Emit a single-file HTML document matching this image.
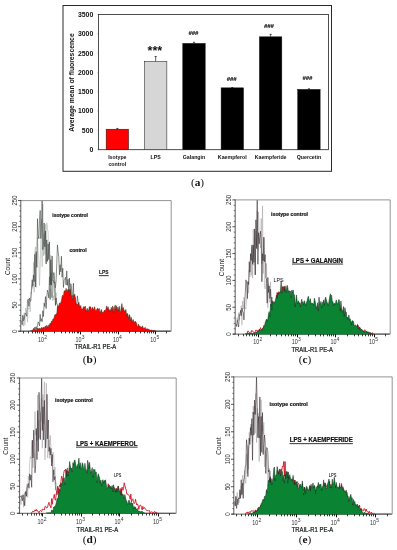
<!DOCTYPE html>
<html><head><meta charset="utf-8"><title>Figure</title>
<style>
html,body{margin:0;padding:0;background:#fff;}
body{width:397px;height:550px;overflow:hidden;font-family:"Liberation Sans",sans-serif;}
svg{display:block;will-change:transform;}
text{font-family:"Liberation Sans",sans-serif;fill:#111;}
.bt{font-size:6.9px;font-weight:bold;}
.yl{font-size:6.8px;font-weight:bold;}
.xl{font-size:5.25px;font-weight:bold;}
.st{font-size:12.6px;font-weight:bold;}
.hs{font-size:5.4px;font-weight:bold;font-style:italic;stroke:#111;stroke-width:0.15;}
.cap{font-family:"Liberation Serif",serif;font-size:11.3px;}
.ht{font-size:6.6px;fill:#333;}
.hl{font-size:6.4px;fill:#111;}
.an{font-size:5.05px;font-weight:bold;}
.ti{font-size:6.4px;font-weight:bold;}
.sm{font-size:4.8px;}
</style></head>
<body>
<svg width="397" height="550" viewBox="0 0 397 550">
<rect width="397" height="550" fill="#fff"/>
<rect x="63.0" y="5.5" width="268.5" height="165.8" fill="#fff" stroke="#2a2a2a" stroke-width="1.0"/>
<rect x="98.5" y="14.4" width="229.9" height="135.3" fill="#fff" stroke="#222" stroke-width="0.8"/>
<line x1="97.2" y1="149.70" x2="98.5" y2="149.70" stroke="#777" stroke-width="0.4"/>
<text x="93.3" y="152.15" text-anchor="end" class="bt">0</text>
<line x1="97.2" y1="130.37" x2="98.5" y2="130.37" stroke="#777" stroke-width="0.4"/>
<text x="93.3" y="132.82" text-anchor="end" class="bt">500</text>
<line x1="97.2" y1="111.04" x2="98.5" y2="111.04" stroke="#777" stroke-width="0.4"/>
<text x="93.3" y="113.49" text-anchor="end" class="bt">1000</text>
<line x1="97.2" y1="91.71" x2="98.5" y2="91.71" stroke="#777" stroke-width="0.4"/>
<text x="93.3" y="94.16" text-anchor="end" class="bt">1500</text>
<line x1="97.2" y1="72.39" x2="98.5" y2="72.39" stroke="#777" stroke-width="0.4"/>
<text x="93.3" y="74.84" text-anchor="end" class="bt">2000</text>
<line x1="97.2" y1="53.06" x2="98.5" y2="53.06" stroke="#777" stroke-width="0.4"/>
<text x="93.3" y="55.51" text-anchor="end" class="bt">2500</text>
<line x1="97.2" y1="33.73" x2="98.5" y2="33.73" stroke="#777" stroke-width="0.4"/>
<text x="93.3" y="36.18" text-anchor="end" class="bt">3000</text>
<line x1="97.2" y1="14.40" x2="98.5" y2="14.40" stroke="#777" stroke-width="0.4"/>
<text x="93.3" y="16.85" text-anchor="end" class="bt">3500</text>
<text transform="translate(74.3,82.5) rotate(-90)" text-anchor="middle" class="yl">Average mean of fluorescence</text>
<rect x="106.16" y="129.21" width="22.4" height="20.49" fill="#f00" stroke="#111" stroke-width="0.5"/>
<path d="M117.36 129.21V128.25M116.26 128.45H118.46" stroke="#111" stroke-width="0.65" fill="none"/>
<text x="117.36" y="159.30" text-anchor="middle" class="xl">Isotype</text>
<text x="117.36" y="165.70" text-anchor="middle" class="xl">control</text>
<rect x="144.47" y="61.37" width="22.4" height="88.33" fill="#d6d6d6" stroke="#111" stroke-width="0.5"/>
<path d="M155.67 61.37V56.34M154.57 56.54H156.77" stroke="#111" stroke-width="0.65" fill="none"/>
<text x="155.67" y="159.30" text-anchor="middle" class="xl">LPS</text>
<text x="154.87" y="55.04" text-anchor="middle" class="st">***</text>
<rect x="182.79" y="43.39" width="22.4" height="106.31" fill="#000" stroke="#111" stroke-width="0.5"/>
<path d="M193.99 43.39V42.04M192.89 42.24H195.09" stroke="#111" stroke-width="0.65" fill="none"/>
<text x="193.99" y="159.30" text-anchor="middle" class="xl">Galangin</text>
<text x="188.40" y="34.50" textLength="9.8" lengthAdjust="spacingAndGlyphs" class="hs">###</text>
<rect x="221.11" y="87.85" width="22.4" height="61.85" fill="#000" stroke="#111" stroke-width="0.5"/>
<path d="M232.31 87.85V87.27M231.21 87.47H233.41" stroke="#111" stroke-width="0.65" fill="none"/>
<text x="232.31" y="159.30" text-anchor="middle" class="xl">Kaempferol</text>
<text x="226.70" y="81.40" textLength="9.8" lengthAdjust="spacingAndGlyphs" class="hs">###</text>
<rect x="259.42" y="36.82" width="22.4" height="112.88" fill="#000" stroke="#111" stroke-width="0.5"/>
<path d="M270.62 36.82V34.12M269.52 34.32H271.72" stroke="#111" stroke-width="0.65" fill="none"/>
<text x="270.62" y="159.30" text-anchor="middle" class="xl">Kaempferide</text>
<text x="264.10" y="27.70" textLength="9.8" lengthAdjust="spacingAndGlyphs" class="hs">###</text>
<rect x="297.74" y="89.39" width="22.4" height="60.31" fill="#000" stroke="#111" stroke-width="0.5"/>
<path d="M308.94 89.39V88.62M307.84 88.82H310.04" stroke="#111" stroke-width="0.65" fill="none"/>
<text x="308.94" y="159.30" text-anchor="middle" class="xl">Quercetin</text>
<text x="302.60" y="79.60" textLength="9.8" lengthAdjust="spacingAndGlyphs" class="hs">###</text>
<text x="197.5" y="186.2" text-anchor="middle" class="cap"><tspan>(</tspan><tspan font-weight="bold">a</tspan><tspan>)</tspan></text>
<rect x="20.8" y="200.6" width="150.4" height="130.6" fill="#fff" stroke="none"/>
<path d="M18.6 331.2H171.2" fill="none" stroke="#333" stroke-width="0.8"/>
<path d="M21.55 331.20 L22.21 331.20 L22.88 331.20 L23.54 331.20 L24.21 331.20 L24.87 331.20 L25.54 331.20 L26.20 331.20 L26.87 331.20 L27.53 331.20 L28.20 331.20 L28.86 331.20 L29.53 330.94 L30.19 330.60 L30.85 330.83 L31.52 331.19 L32.18 330.40 L32.85 330.85 L33.51 329.96 L34.18 329.58 L34.84 327.02 L35.51 328.83 L36.17 326.63 L36.84 329.04 L37.50 325.12 L38.17 321.86 L38.83 323.13 L39.50 325.84 L40.16 314.32 L40.83 321.38 L41.49 318.78 L42.16 321.58 L42.82 310.75 L43.48 316.54 L44.15 303.15 L44.81 306.58 L45.48 296.61 L46.14 308.59 L46.81 296.75 L47.47 290.17 L48.14 292.73 L48.80 297.96 L49.47 276.61 L50.13 299.48 L50.80 272.89 L51.46 295.71 L52.13 297.73 L52.79 292.06 L53.46 273.02 L54.12 272.39 L54.79 283.85 L55.45 287.79 L56.12 279.87 L56.78 263.56 L57.44 244.91 L58.11 251.56 L58.77 256.45 L59.44 274.87 L60.10 264.69 L60.77 271.80 L61.43 256.25 L62.10 277.16 L62.76 268.15 L63.43 287.52 L64.09 280.54 L64.76 279.33 L65.42 277.30 L66.09 284.97 L66.75 270.92 L67.42 285.36 L68.08 279.25 L68.75 294.76 L69.41 278.10 L70.07 298.43 L70.74 283.61 L71.40 286.34 L72.07 295.47 L72.73 296.90 L73.40 283.18 L74.06 303.49 L74.73 294.12 L75.39 307.27 L76.06 312.82 L76.72 305.07 L77.39 295.83 L78.05 302.39 L78.72 302.50 L79.38 315.25 L80.05 307.06 L80.71 316.90 L81.38 316.89 L82.04 314.77 L82.70 320.94 L83.37 318.74 L84.03 314.66 L84.70 324.28 L85.36 314.77 L86.03 322.50 L86.69 316.98 L87.36 324.98 L88.02 323.20 L88.69 323.77 L89.35 328.11 L90.02 326.41 L90.68 322.92 L91.35 328.57 L92.01 325.88 L92.68 328.60 L93.34 327.70 L94.01 328.91 L94.67 328.34 L95.34 329.33 L96.00 328.70 L96.66 330.62 L97.33 329.66 L97.99 330.15 L98.66 330.72 L99.32 330.83 L99.99 331.20 L100.65 330.84 L101.32 330.70 L101.98 330.76 L102.65 330.69 L103.31 331.20 L103.98 330.95 L104.64 331.11 L105.31 330.90 L105.97 331.18 L106.64 331.13 L107.30 331.20 L107.97 331.20 L108.63 331.20 L109.30 331.20 L109.96 331.20 L110.62 331.20 L111.29 331.20 L111.95 331.20 L112.62 331.20 L113.28 331.20 L113.95 331.20 L114.61 331.20 L115.28 331.20 L115.94 331.20 L116.61 331.20 L117.27 331.20 L117.94 331.20 L118.60 331.20 L119.27 331.20 L119.93 331.20 L120.60 331.20 L121.26 331.20 L121.93 331.20 L122.59 331.20 L123.25 331.20 L123.92 331.20 L124.58 331.20 L125.25 331.20 L125.91 331.20 L126.58 331.20 L127.24 331.20 L127.91 331.20 L128.57 331.20 L129.24 331.20 L129.90 331.20 L130.57 331.20 L131.23 331.20 L131.90 331.20 L132.56 331.20 L133.23 331.20 L133.89 331.20 L134.56 331.20 L135.22 331.20 L135.89 331.20 L136.55 331.20 L137.21 331.20 L137.88 331.20 L138.54 331.20 L139.21 331.20 L139.87 331.20 L140.54 331.20 L141.20 331.20 L141.87 331.20 L142.53 331.20 L143.20 331.20 L143.86 331.20 L144.53 331.20 L145.19 331.20 L145.86 331.20 L146.52 331.20 L147.19 331.20 L147.85 331.20 L148.52 331.20 L149.18 331.20 L149.84 331.20 L150.51 331.20 L151.17 331.20 L151.84 331.20 L152.50 331.20 L153.17 331.20 L153.83 331.20 L154.50 331.20 L155.16 331.20 L155.83 331.20 L156.49 331.20 L157.16 331.20 L157.82 331.20 L158.49 331.20 L159.15 331.20 L159.82 331.20 L160.48 331.20 L161.15 331.20 L161.81 331.20 L162.48 331.20 L163.14 331.20 L163.80 331.20 L164.47 331.20 L165.13 331.20 L165.80 331.20 L166.46 331.20 L167.13 331.20 L167.79 331.20 L168.46 331.20 L169.12 331.20 L169.79 331.20 L170.45 331.20" fill="none" stroke="#2c332e" stroke-width="0.55" stroke-linejoin="miter" stroke-miterlimit="10"/>
<path d="M21.55 319.83 L22.21 321.30 L22.88 315.04 L23.54 326.19 L24.21 312.71 L24.87 325.25 L25.54 308.01 L26.20 309.61 L26.87 314.56 L27.53 322.12 L28.20 307.77 L28.86 309.01 L29.53 301.84 L30.19 311.87 L30.85 292.51 L31.52 293.68 L32.18 284.43 L32.85 288.58 L33.51 262.28 L34.18 292.26 L34.84 251.00 L35.51 246.89 L36.17 287.40 L36.84 263.05 L37.50 237.25 L38.17 251.53 L38.83 260.97 L39.50 285.49 L40.16 265.69 L40.83 239.65 L41.49 219.05 L42.16 266.81 L42.82 204.16 L43.48 255.91 L44.15 233.66 L44.81 254.52 L45.48 224.44 L46.14 262.00 L46.81 222.75 L47.47 229.19 L48.14 231.61 L48.80 256.95 L49.47 263.31 L50.13 288.74 L50.80 255.10 L51.46 275.23 L52.13 271.61 L52.79 300.70 L53.46 295.67 L54.12 299.98 L54.79 282.59 L55.45 305.18 L56.12 292.69 L56.78 303.90 L57.44 304.29 L58.11 309.47 L58.77 316.12 L59.44 320.82 L60.10 326.53 L60.77 327.32 L61.43 324.19 L62.10 328.05 L62.76 327.89 L63.43 329.80 L64.09 329.68 L64.76 331.01 L65.42 330.23 L66.09 330.22 L66.75 330.11 L67.42 330.61 L68.08 330.58 L68.75 331.20 L69.41 330.93 L70.07 331.17 L70.74 330.78 L71.40 331.20 L72.07 330.68 L72.73 331.08 L73.40 331.04 L74.06 331.20 L74.73 331.11 L75.39 331.20 L76.06 331.07 L76.72 331.20 L77.39 331.20 L78.05 331.20 L78.72 331.20 L79.38 331.20 L80.05 331.20 L80.71 331.20 L81.38 331.20 L82.04 331.20 L82.70 331.20 L83.37 331.20 L84.03 331.20 L84.70 331.20 L85.36 331.20 L86.03 331.20 L86.69 331.20 L87.36 331.20 L88.02 331.20 L88.69 331.20 L89.35 331.20 L90.02 331.20 L90.68 331.20 L91.35 331.20 L92.01 331.20 L92.68 331.20 L93.34 331.20 L94.01 331.20 L94.67 331.20 L95.34 331.20 L96.00 331.20 L96.66 331.20 L97.33 331.20 L97.99 331.20 L98.66 331.20 L99.32 331.20 L99.99 331.20 L100.65 331.20 L101.32 331.20 L101.98 331.20 L102.65 331.20 L103.31 331.20 L103.98 331.20 L104.64 331.20 L105.31 331.20 L105.97 331.20 L106.64 331.20 L107.30 331.20 L107.97 331.20 L108.63 331.20 L109.30 331.20 L109.96 331.20 L110.62 331.20 L111.29 331.20 L111.95 331.20 L112.62 331.20 L113.28 331.20 L113.95 331.20 L114.61 331.20 L115.28 331.20 L115.94 331.20 L116.61 331.20 L117.27 331.20 L117.94 331.20 L118.60 331.20 L119.27 331.20 L119.93 331.20 L120.60 331.20 L121.26 331.20 L121.93 331.20 L122.59 331.20 L123.25 331.20 L123.92 331.20 L124.58 331.20 L125.25 331.20 L125.91 331.20 L126.58 331.20 L127.24 331.20 L127.91 331.20 L128.57 331.20 L129.24 331.20 L129.90 331.20 L130.57 331.20 L131.23 331.20 L131.90 331.20 L132.56 331.20 L133.23 331.20 L133.89 331.20 L134.56 331.20 L135.22 331.20 L135.89 331.20 L136.55 331.20 L137.21 331.20 L137.88 331.20 L138.54 331.20 L139.21 331.20 L139.87 331.20 L140.54 331.20 L141.20 331.20 L141.87 331.20 L142.53 331.20 L143.20 331.20 L143.86 331.20 L144.53 331.20 L145.19 331.20 L145.86 331.20 L146.52 331.20 L147.19 331.20 L147.85 331.20 L148.52 331.20 L149.18 331.20 L149.84 331.20 L150.51 331.20 L151.17 331.20 L151.84 331.20 L152.50 331.20 L153.17 331.20 L153.83 331.20 L154.50 331.20 L155.16 331.20 L155.83 331.20 L156.49 331.20 L157.16 331.20 L157.82 331.20 L158.49 331.20 L159.15 331.20 L159.82 331.20 L160.48 331.20 L161.15 331.20 L161.81 331.20 L162.48 331.20 L163.14 331.20 L163.80 331.20 L164.47 331.20 L165.13 331.20 L165.80 331.20 L166.46 331.20 L167.13 331.20 L167.79 331.20 L168.46 331.20 L169.12 331.20 L169.79 331.20 L170.45 331.20" fill="none" stroke="#a2a8a4" stroke-width="0.5" stroke-linejoin="miter" stroke-miterlimit="10"/>
<path d="M21.55 321.06 L22.21 324.80 L22.88 315.41 L23.54 320.69 L24.21 319.20 L24.87 314.85 L25.54 312.96 L26.20 314.24 L26.87 316.29 L27.53 300.84 L28.20 298.89 L28.86 306.36 L29.53 298.10 L30.19 301.44 L30.85 300.28 L31.52 288.26 L32.18 279.68 L32.85 286.25 L33.51 274.98 L34.18 281.65 L34.84 254.23 L35.51 286.87 L36.17 251.71 L36.84 267.44 L37.50 218.76 L38.17 235.23 L38.83 238.74 L39.50 220.82 L40.16 210.44 L40.83 238.50 L41.49 224.03 L42.16 200.90 L42.82 249.72 L43.48 244.04 L44.15 222.99 L44.81 246.84 L45.48 230.94 L46.14 264.04 L46.81 239.90 L47.47 261.37 L48.14 243.81 L48.80 259.55 L49.47 241.92 L50.13 284.89 L50.80 259.66 L51.46 285.16 L52.13 256.02 L52.79 280.91 L53.46 280.70 L54.12 283.12 L54.79 281.93 L55.45 305.44 L56.12 297.99 L56.78 303.91 L57.44 305.07 L58.11 319.96 L58.77 318.94 L59.44 317.16 L60.10 317.25 L60.77 324.90 L61.43 325.50 L62.10 328.84 L62.76 328.42 L63.43 329.34 L64.09 329.55 L64.76 330.72 L65.42 330.20 L66.09 330.59 L66.75 330.43 L67.42 330.51 L68.08 330.43 L68.75 331.02 L69.41 330.97 L70.07 331.10 L70.74 330.72 L71.40 331.20 L72.07 330.74 L72.73 331.20 L73.40 331.15 L74.06 331.09 L74.73 331.01 L75.39 331.20 L76.06 331.08 L76.72 331.20 L77.39 331.20 L78.05 331.20 L78.72 331.20 L79.38 331.20 L80.05 331.20 L80.71 331.20 L81.38 331.20 L82.04 331.20 L82.70 331.20 L83.37 331.20 L84.03 331.20 L84.70 331.20 L85.36 331.20 L86.03 331.20 L86.69 331.20 L87.36 331.20 L88.02 331.20 L88.69 331.20 L89.35 331.20 L90.02 331.20 L90.68 331.20 L91.35 331.20 L92.01 331.20 L92.68 331.20 L93.34 331.20 L94.01 331.20 L94.67 331.20 L95.34 331.20 L96.00 331.20 L96.66 331.20 L97.33 331.20 L97.99 331.20 L98.66 331.20 L99.32 331.20 L99.99 331.20 L100.65 331.20 L101.32 331.20 L101.98 331.20 L102.65 331.20 L103.31 331.20 L103.98 331.20 L104.64 331.20 L105.31 331.20 L105.97 331.20 L106.64 331.20 L107.30 331.20 L107.97 331.20 L108.63 331.20 L109.30 331.20 L109.96 331.20 L110.62 331.20 L111.29 331.20 L111.95 331.20 L112.62 331.20 L113.28 331.20 L113.95 331.20 L114.61 331.20 L115.28 331.20 L115.94 331.20 L116.61 331.20 L117.27 331.20 L117.94 331.20 L118.60 331.20 L119.27 331.20 L119.93 331.20 L120.60 331.20 L121.26 331.20 L121.93 331.20 L122.59 331.20 L123.25 331.20 L123.92 331.20 L124.58 331.20 L125.25 331.20 L125.91 331.20 L126.58 331.20 L127.24 331.20 L127.91 331.20 L128.57 331.20 L129.24 331.20 L129.90 331.20 L130.57 331.20 L131.23 331.20 L131.90 331.20 L132.56 331.20 L133.23 331.20 L133.89 331.20 L134.56 331.20 L135.22 331.20 L135.89 331.20 L136.55 331.20 L137.21 331.20 L137.88 331.20 L138.54 331.20 L139.21 331.20 L139.87 331.20 L140.54 331.20 L141.20 331.20 L141.87 331.20 L142.53 331.20 L143.20 331.20 L143.86 331.20 L144.53 331.20 L145.19 331.20 L145.86 331.20 L146.52 331.20 L147.19 331.20 L147.85 331.20 L148.52 331.20 L149.18 331.20 L149.84 331.20 L150.51 331.20 L151.17 331.20 L151.84 331.20 L152.50 331.20 L153.17 331.20 L153.83 331.20 L154.50 331.20 L155.16 331.20 L155.83 331.20 L156.49 331.20 L157.16 331.20 L157.82 331.20 L158.49 331.20 L159.15 331.20 L159.82 331.20 L160.48 331.20 L161.15 331.20 L161.81 331.20 L162.48 331.20 L163.14 331.20 L163.80 331.20 L164.47 331.20 L165.13 331.20 L165.80 331.20 L166.46 331.20 L167.13 331.20 L167.79 331.20 L168.46 331.20 L169.12 331.20 L169.79 331.20 L170.45 331.20" fill="none" stroke="#2c332e" stroke-width="0.55" stroke-linejoin="miter" stroke-miterlimit="10"/>
<path d="M30.85 331.70 L30.85 330.67 L31.52 330.54 L32.18 330.41 L32.85 330.21 L33.51 328.31 L34.18 329.04 L34.84 329.28 L35.51 329.39 L36.17 330.54 L36.84 328.65 L37.50 327.96 L38.17 329.40 L38.83 328.37 L39.50 328.25 L40.16 329.72 L40.83 327.90 L41.49 327.48 L42.16 328.00 L42.82 327.94 L43.48 326.96 L44.15 328.64 L44.81 326.97 L45.48 325.80 L46.14 327.66 L46.81 325.24 L47.47 326.34 L48.14 327.55 L48.80 324.86 L49.47 325.25 L50.13 323.12 L50.80 324.36 L51.46 320.91 L52.13 322.02 L52.79 319.13 L53.46 319.24 L54.12 317.50 L54.79 314.82 L55.45 314.63 L56.12 313.88 L56.78 313.71 L57.44 307.08 L58.11 305.90 L58.77 306.18 L59.44 302.92 L60.10 303.91 L60.77 302.52 L61.43 300.71 L62.10 296.38 L62.76 295.12 L63.43 296.45 L64.09 291.35 L64.76 290.48 L65.42 291.40 L66.09 288.30 L66.75 291.22 L67.42 290.37 L68.08 289.33 L68.75 291.31 L69.41 289.64 L70.07 295.76 L70.74 289.42 L71.40 296.22 L72.07 295.52 L72.73 299.56 L73.40 295.42 L74.06 294.68 L74.73 296.16 L75.39 297.78 L76.06 304.53 L76.72 303.65 L77.39 303.88 L78.05 305.93 L78.72 302.31 L79.38 305.41 L80.05 306.36 L80.71 305.54 L81.38 308.91 L82.04 309.10 L82.70 309.31 L83.37 306.69 L84.03 307.31 L84.70 307.03 L85.36 306.09 L86.03 311.23 L86.69 309.67 L87.36 308.30 L88.02 311.47 L88.69 309.88 L89.35 306.81 L90.02 306.72 L90.68 306.87 L91.35 309.07 L92.01 309.68 L92.68 307.08 L93.34 310.07 L94.01 308.65 L94.67 306.68 L95.34 310.15 L96.00 310.67 L96.66 309.48 L97.33 308.29 L97.99 308.55 L98.66 309.24 L99.32 308.47 L99.99 312.84 L100.65 311.38 L101.32 309.35 L101.98 311.58 L102.65 312.44 L103.31 312.17 L103.98 311.52 L104.64 309.96 L105.31 311.59 L105.97 308.97 L106.64 305.94 L107.30 309.60 L107.97 306.63 L108.63 308.56 L109.30 311.36 L109.96 309.53 L110.62 310.94 L111.29 307.28 L111.95 311.15 L112.62 305.97 L113.28 307.36 L113.95 312.60 L114.61 306.65 L115.28 304.90 L115.94 309.65 L116.61 305.79 L117.27 311.50 L117.94 307.05 L118.60 310.95 L119.27 306.28 L119.93 310.96 L120.60 312.13 L121.26 307.00 L121.93 303.60 L122.59 309.76 L123.25 307.40 L123.92 309.73 L124.58 311.43 L125.25 310.47 L125.91 309.42 L126.58 315.62 L127.24 313.20 L127.91 314.59 L128.57 318.63 L129.24 314.67 L129.90 315.29 L130.57 320.71 L131.23 317.28 L131.90 320.29 L132.56 321.15 L133.23 319.43 L133.89 321.71 L134.56 322.15 L135.22 321.23 L135.89 322.12 L136.55 323.17 L137.21 326.17 L137.88 326.64 L138.54 324.07 L139.21 326.54 L139.87 325.77 L140.54 327.28 L141.20 326.75 L141.87 328.05 L142.53 325.82 L143.20 328.40 L143.86 327.88 L144.53 328.16 L145.19 327.35 L145.86 329.50 L146.52 328.74 L147.19 329.08 L147.85 328.85 L148.52 329.14 L149.18 329.90 L149.84 329.76 L150.51 330.19 L151.17 329.92 L151.84 330.30 L152.50 330.64 L153.17 330.51 L153.83 330.46 L154.50 330.61 L155.16 330.85 L155.83 330.90 L155.83 331.70Z" fill="#f00" stroke="none"/>
<path d="M30.85 330.67 L31.52 330.54 L32.18 330.41 L32.85 330.21 L33.51 328.31 L34.18 329.04 L34.84 329.28 L35.51 329.39 L36.17 330.54 L36.84 328.65 L37.50 327.96 L38.17 329.40 L38.83 328.37 L39.50 328.25 L40.16 329.72 L40.83 327.90 L41.49 327.48 L42.16 328.00 L42.82 327.94 L43.48 326.96 L44.15 328.64 L44.81 326.97 L45.48 325.80 L46.14 327.66 L46.81 325.24 L47.47 326.34 L48.14 327.55 L48.80 324.86 L49.47 325.25 L50.13 323.12 L50.80 324.36 L51.46 320.91 L52.13 322.02 L52.79 319.13 L53.46 319.24 L54.12 317.50 L54.79 314.82 L55.45 314.63 L56.12 313.88 L56.78 313.71 L57.44 307.08 L58.11 305.90 L58.77 306.18 L59.44 302.92 L60.10 303.91 L60.77 302.52 L61.43 300.71 L62.10 296.38 L62.76 295.12 L63.43 296.45 L64.09 291.35 L64.76 290.48 L65.42 291.40 L66.09 288.30 L66.75 291.22 L67.42 290.37 L68.08 289.33 L68.75 291.31 L69.41 289.64 L70.07 295.76 L70.74 289.42 L71.40 296.22 L72.07 295.52 L72.73 299.56 L73.40 295.42 L74.06 294.68 L74.73 296.16 L75.39 297.78 L76.06 304.53 L76.72 303.65 L77.39 303.88 L78.05 305.93 L78.72 302.31 L79.38 305.41 L80.05 306.36 L80.71 305.54 L81.38 308.91 L82.04 309.10 L82.70 309.31 L83.37 306.69 L84.03 307.31 L84.70 307.03 L85.36 306.09 L86.03 311.23 L86.69 309.67 L87.36 308.30 L88.02 311.47 L88.69 309.88 L89.35 306.81 L90.02 306.72 L90.68 306.87 L91.35 309.07 L92.01 309.68 L92.68 307.08 L93.34 310.07 L94.01 308.65 L94.67 306.68 L95.34 310.15 L96.00 310.67 L96.66 309.48 L97.33 308.29 L97.99 308.55 L98.66 309.24 L99.32 308.47 L99.99 312.84 L100.65 311.38 L101.32 309.35 L101.98 311.58 L102.65 312.44 L103.31 312.17 L103.98 311.52 L104.64 309.96 L105.31 311.59 L105.97 308.97 L106.64 305.94 L107.30 309.60 L107.97 306.63 L108.63 308.56 L109.30 311.36 L109.96 309.53 L110.62 310.94 L111.29 307.28 L111.95 311.15 L112.62 305.97 L113.28 307.36 L113.95 312.60 L114.61 306.65 L115.28 304.90 L115.94 309.65 L116.61 305.79 L117.27 311.50 L117.94 307.05 L118.60 310.95 L119.27 306.28 L119.93 310.96 L120.60 312.13 L121.26 307.00 L121.93 303.60 L122.59 309.76 L123.25 307.40 L123.92 309.73 L124.58 311.43 L125.25 310.47 L125.91 309.42 L126.58 315.62 L127.24 313.20 L127.91 314.59 L128.57 318.63 L129.24 314.67 L129.90 315.29 L130.57 320.71 L131.23 317.28 L131.90 320.29 L132.56 321.15 L133.23 319.43 L133.89 321.71 L134.56 322.15 L135.22 321.23 L135.89 322.12 L136.55 323.17 L137.21 326.17 L137.88 326.64 L138.54 324.07 L139.21 326.54 L139.87 325.77 L140.54 327.28 L141.20 326.75 L141.87 328.05 L142.53 325.82 L143.20 328.40 L143.86 327.88 L144.53 328.16 L145.19 327.35 L145.86 329.50 L146.52 328.74 L147.19 329.08 L147.85 328.85 L148.52 329.14 L149.18 329.90 L149.84 329.76 L150.51 330.19 L151.17 329.92 L151.84 330.30 L152.50 330.64 L153.17 330.51 L153.83 330.46 L154.50 330.61 L155.16 330.85 L155.83 330.90" fill="none" stroke="#3a2a1a" stroke-width="0.5" stroke-linejoin="round"/>
<path d="M20.8 200.6H171.2V331.2" fill="none" stroke="#666" stroke-width="0.7"/>
<path d="M20.8 200.1V331.59999999999997" fill="none" stroke="#333" stroke-width="0.8"/>
<line x1="18.0" y1="331.20" x2="20.8" y2="331.20" stroke="#222" stroke-width="0.75"/>
<text transform="translate(16.60,331.20) rotate(-90)" x="-1.75" textLength="3.5" lengthAdjust="spacingAndGlyphs" class="ht">0</text>
<line x1="18.0" y1="305.06" x2="20.8" y2="305.06" stroke="#222" stroke-width="0.75"/>
<text transform="translate(16.60,305.06) rotate(-90)" x="-3.4" textLength="6.8" lengthAdjust="spacingAndGlyphs" class="ht">50</text>
<line x1="18.0" y1="278.92" x2="20.8" y2="278.92" stroke="#222" stroke-width="0.75"/>
<text transform="translate(16.60,278.92) rotate(-90)" x="-5.0" textLength="10.0" lengthAdjust="spacingAndGlyphs" class="ht">100</text>
<line x1="18.0" y1="252.78" x2="20.8" y2="252.78" stroke="#222" stroke-width="0.75"/>
<text transform="translate(16.60,252.78) rotate(-90)" x="-5.0" textLength="10.0" lengthAdjust="spacingAndGlyphs" class="ht">150</text>
<line x1="18.0" y1="226.64" x2="20.8" y2="226.64" stroke="#222" stroke-width="0.75"/>
<text transform="translate(16.60,226.64) rotate(-90)" x="-5.0" textLength="10.0" lengthAdjust="spacingAndGlyphs" class="ht">200</text>
<line x1="18.0" y1="200.50" x2="20.8" y2="200.50" stroke="#222" stroke-width="0.75"/>
<text transform="translate(16.60,200.50) rotate(-90)" x="-5.0" textLength="10.0" lengthAdjust="spacingAndGlyphs" class="ht">250</text>
<line x1="19.3" y1="325.97" x2="20.8" y2="325.97" stroke="#222" stroke-width="0.6"/>
<line x1="19.3" y1="320.74" x2="20.8" y2="320.74" stroke="#222" stroke-width="0.6"/>
<line x1="19.3" y1="315.52" x2="20.8" y2="315.52" stroke="#222" stroke-width="0.6"/>
<line x1="19.3" y1="310.29" x2="20.8" y2="310.29" stroke="#222" stroke-width="0.6"/>
<line x1="19.3" y1="299.83" x2="20.8" y2="299.83" stroke="#222" stroke-width="0.6"/>
<line x1="19.3" y1="294.60" x2="20.8" y2="294.60" stroke="#222" stroke-width="0.6"/>
<line x1="19.3" y1="289.38" x2="20.8" y2="289.38" stroke="#222" stroke-width="0.6"/>
<line x1="19.3" y1="284.15" x2="20.8" y2="284.15" stroke="#222" stroke-width="0.6"/>
<line x1="19.3" y1="273.69" x2="20.8" y2="273.69" stroke="#222" stroke-width="0.6"/>
<line x1="19.3" y1="268.46" x2="20.8" y2="268.46" stroke="#222" stroke-width="0.6"/>
<line x1="19.3" y1="263.24" x2="20.8" y2="263.24" stroke="#222" stroke-width="0.6"/>
<line x1="19.3" y1="258.01" x2="20.8" y2="258.01" stroke="#222" stroke-width="0.6"/>
<line x1="19.3" y1="247.55" x2="20.8" y2="247.55" stroke="#222" stroke-width="0.6"/>
<line x1="19.3" y1="242.32" x2="20.8" y2="242.32" stroke="#222" stroke-width="0.6"/>
<line x1="19.3" y1="237.10" x2="20.8" y2="237.10" stroke="#222" stroke-width="0.6"/>
<line x1="19.3" y1="231.87" x2="20.8" y2="231.87" stroke="#222" stroke-width="0.6"/>
<line x1="19.3" y1="221.41" x2="20.8" y2="221.41" stroke="#222" stroke-width="0.6"/>
<line x1="19.3" y1="216.18" x2="20.8" y2="216.18" stroke="#222" stroke-width="0.6"/>
<line x1="19.3" y1="210.96" x2="20.8" y2="210.96" stroke="#222" stroke-width="0.6"/>
<line x1="19.3" y1="205.73" x2="20.8" y2="205.73" stroke="#222" stroke-width="0.6"/>
<text transform="translate(9.80,266.50) rotate(-90)" text-anchor="middle" class="hl">Count</text>
<line x1="23.50" y1="331.2" x2="23.50" y2="333.4" stroke="#1a1a1a" stroke-width="0.85"/>
<line x1="28.50" y1="331.2" x2="28.50" y2="333.4" stroke="#1a1a1a" stroke-width="0.85"/>
<line x1="32.50" y1="331.2" x2="32.50" y2="333.4" stroke="#1a1a1a" stroke-width="0.85"/>
<line x1="35.50" y1="331.2" x2="35.50" y2="333.4" stroke="#1a1a1a" stroke-width="0.85"/>
<line x1="37.50" y1="331.2" x2="37.50" y2="333.4" stroke="#1a1a1a" stroke-width="0.85"/>
<line x1="39.50" y1="331.2" x2="39.50" y2="333.4" stroke="#1a1a1a" stroke-width="0.85"/>
<line x1="41.50" y1="331.2" x2="41.50" y2="333.4" stroke="#1a1a1a" stroke-width="0.85"/>
<line x1="43.50" y1="331.2" x2="43.50" y2="334.4" stroke="#111" stroke-width="1"/>
<text x="38.10" y="341.70" textLength="6.0" lengthAdjust="spacingAndGlyphs" class="ht" style="font-size:7.5px">10</text>
<text x="44.30" y="338.70" class="ht" style="font-size:5.0px">2</text>
<line x1="54.50" y1="331.2" x2="54.50" y2="333.4" stroke="#1a1a1a" stroke-width="0.85"/>
<line x1="61.50" y1="331.2" x2="61.50" y2="333.4" stroke="#1a1a1a" stroke-width="0.85"/>
<line x1="65.50" y1="331.2" x2="65.50" y2="333.4" stroke="#1a1a1a" stroke-width="0.85"/>
<line x1="69.50" y1="331.2" x2="69.50" y2="333.4" stroke="#1a1a1a" stroke-width="0.85"/>
<line x1="72.50" y1="331.2" x2="72.50" y2="333.4" stroke="#1a1a1a" stroke-width="0.85"/>
<line x1="74.50" y1="331.2" x2="74.50" y2="333.4" stroke="#1a1a1a" stroke-width="0.85"/>
<line x1="77.50" y1="331.2" x2="77.50" y2="333.4" stroke="#1a1a1a" stroke-width="0.85"/>
<line x1="78.50" y1="331.2" x2="78.50" y2="333.4" stroke="#1a1a1a" stroke-width="0.85"/>
<line x1="80.50" y1="331.2" x2="80.50" y2="334.4" stroke="#111" stroke-width="1"/>
<text x="75.50" y="341.70" textLength="6.0" lengthAdjust="spacingAndGlyphs" class="ht" style="font-size:7.5px">10</text>
<text x="81.70" y="338.70" class="ht" style="font-size:5.0px">3</text>
<line x1="91.50" y1="331.2" x2="91.50" y2="333.4" stroke="#1a1a1a" stroke-width="0.85"/>
<line x1="98.50" y1="331.2" x2="98.50" y2="333.4" stroke="#1a1a1a" stroke-width="0.85"/>
<line x1="103.50" y1="331.2" x2="103.50" y2="333.4" stroke="#1a1a1a" stroke-width="0.85"/>
<line x1="106.50" y1="331.2" x2="106.50" y2="333.4" stroke="#1a1a1a" stroke-width="0.85"/>
<line x1="109.50" y1="331.2" x2="109.50" y2="333.4" stroke="#1a1a1a" stroke-width="0.85"/>
<line x1="112.50" y1="331.2" x2="112.50" y2="333.4" stroke="#1a1a1a" stroke-width="0.85"/>
<line x1="114.50" y1="331.2" x2="114.50" y2="333.4" stroke="#1a1a1a" stroke-width="0.85"/>
<line x1="116.50" y1="331.2" x2="116.50" y2="333.4" stroke="#1a1a1a" stroke-width="0.85"/>
<line x1="118.50" y1="331.2" x2="118.50" y2="334.4" stroke="#111" stroke-width="1"/>
<text x="112.90" y="341.70" textLength="6.0" lengthAdjust="spacingAndGlyphs" class="ht" style="font-size:7.5px">10</text>
<text x="119.10" y="338.70" class="ht" style="font-size:5.0px">4</text>
<line x1="129.50" y1="331.2" x2="129.50" y2="333.4" stroke="#1a1a1a" stroke-width="0.85"/>
<line x1="135.50" y1="331.2" x2="135.50" y2="333.4" stroke="#1a1a1a" stroke-width="0.85"/>
<line x1="140.50" y1="331.2" x2="140.50" y2="333.4" stroke="#1a1a1a" stroke-width="0.85"/>
<line x1="144.50" y1="331.2" x2="144.50" y2="333.4" stroke="#1a1a1a" stroke-width="0.85"/>
<line x1="147.50" y1="331.2" x2="147.50" y2="333.4" stroke="#1a1a1a" stroke-width="0.85"/>
<line x1="149.50" y1="331.2" x2="149.50" y2="333.4" stroke="#1a1a1a" stroke-width="0.85"/>
<line x1="151.50" y1="331.2" x2="151.50" y2="333.4" stroke="#1a1a1a" stroke-width="0.85"/>
<line x1="153.50" y1="331.2" x2="153.50" y2="333.4" stroke="#1a1a1a" stroke-width="0.85"/>
<line x1="155.50" y1="331.2" x2="155.50" y2="334.4" stroke="#111" stroke-width="1"/>
<text x="150.30" y="341.70" textLength="6.0" lengthAdjust="spacingAndGlyphs" class="ht" style="font-size:7.5px">10</text>
<text x="156.50" y="338.70" class="ht" style="font-size:5.0px">5</text>
<line x1="166.50" y1="331.2" x2="166.50" y2="333.4" stroke="#1a1a1a" stroke-width="0.85"/>
<text x="74.70" y="349.40" textLength="41.6" lengthAdjust="spacingAndGlyphs" class="hl" style="stroke:#1a2626;stroke-width:0.22">TRAIL-R1 PE-A</text>
<text x="89.7" y="362.8" text-anchor="middle" class="cap"><tspan>(</tspan><tspan font-weight="bold">b</tspan><tspan>)</tspan></text>
<rect x="235.2" y="199.9" width="155.0" height="134.2" fill="#fff" stroke="none"/>
<path d="M233.0 334.1H390.2" fill="none" stroke="#333" stroke-width="0.8"/>
<path d="M235.97 318.98 L236.64 318.62 L237.30 317.70 L237.96 319.41 L238.63 312.79 L239.29 320.49 L239.96 312.07 L240.62 312.78 L241.29 305.49 L241.95 324.98 L242.62 301.09 L243.28 309.10 L243.94 297.36 L244.61 305.53 L245.27 308.57 L245.94 308.99 L246.60 299.10 L247.27 298.80 L247.93 281.76 L248.59 293.26 L249.26 269.86 L249.92 277.00 L250.59 253.71 L251.25 275.46 L251.92 247.02 L252.58 277.89 L253.24 228.99 L253.91 265.26 L254.57 236.90 L255.24 274.32 L255.90 231.22 L256.57 245.72 L257.23 210.65 L257.89 249.49 L258.56 211.99 L259.22 237.59 L259.89 240.61 L260.55 247.86 L261.22 218.47 L261.88 263.67 L262.54 205.80 L263.21 273.49 L263.87 238.47 L264.54 287.14 L265.20 288.89 L265.87 283.63 L266.53 263.40 L267.19 297.98 L267.86 307.73 L268.52 283.71 L269.19 299.50 L269.85 302.41 L270.52 281.82 L271.18 302.50 L271.84 301.57 L272.51 312.07 L273.17 305.58 L273.84 320.12 L274.50 313.73 L275.17 329.42 L275.83 321.40 L276.50 327.68 L277.16 328.33 L277.82 331.00 L278.49 329.66 L279.15 332.67 L279.82 332.04 L280.48 333.17 L281.15 333.33 L281.81 332.64 L282.47 333.80 L283.14 333.86 L283.80 332.99 L284.47 333.53 L285.13 333.71 L285.80 334.10 L286.46 334.07 L287.12 333.91 L287.79 333.63 L288.45 333.86 L289.12 333.92 L289.78 334.05 L290.45 334.01 L291.11 333.94 L291.77 334.10 L292.44 334.10 L293.10 334.09 L293.77 334.10 L294.43 334.10 L295.10 334.10 L295.76 334.10 L296.42 334.10 L297.09 334.10 L297.75 334.10 L298.42 334.10 L299.08 334.10 L299.75 334.10 L300.41 334.10 L301.07 334.10 L301.74 334.10 L302.40 334.10 L303.07 334.10 L303.73 334.10 L304.40 334.10 L305.06 334.10 L305.72 334.10 L306.39 334.10 L307.05 334.10 L307.72 334.10 L308.38 334.10 L309.05 334.10 L309.71 334.10 L310.37 334.10 L311.04 334.10 L311.70 334.10 L312.37 334.10 L313.03 334.10 L313.70 334.10 L314.36 334.10 L315.03 334.10 L315.69 334.10 L316.35 334.10 L317.02 334.10 L317.68 334.10 L318.35 334.10 L319.01 334.10 L319.68 334.10 L320.34 334.10 L321.00 334.10 L321.67 334.10 L322.33 334.10 L323.00 334.10 L323.66 334.10 L324.33 334.10 L324.99 334.10 L325.65 334.10 L326.32 334.10 L326.98 334.10 L327.65 334.10 L328.31 334.10 L328.98 334.10 L329.64 334.10 L330.30 334.10 L330.97 334.10 L331.63 334.10 L332.30 334.10 L332.96 334.10 L333.63 334.10 L334.29 334.10 L334.95 334.10 L335.62 334.10 L336.28 334.10 L336.95 334.10 L337.61 334.10 L338.28 334.10 L338.94 334.10 L339.60 334.10 L340.27 334.10 L340.93 334.10 L341.60 334.10 L342.26 334.10 L342.93 334.10 L343.59 334.10 L344.25 334.10 L344.92 334.10 L345.58 334.10 L346.25 334.10 L346.91 334.10 L347.58 334.10 L348.24 334.10 L348.90 334.10 L349.57 334.10 L350.23 334.10 L350.90 334.10 L351.56 334.10 L352.23 334.10 L352.89 334.10 L353.56 334.10 L354.22 334.10 L354.88 334.10 L355.55 334.10 L356.21 334.10 L356.88 334.10 L357.54 334.10 L358.21 334.10 L358.87 334.10 L359.53 334.10 L360.20 334.10 L360.86 334.10 L361.53 334.10 L362.19 334.10 L362.86 334.10 L363.52 334.10 L364.18 334.10 L364.85 334.10 L365.51 334.10 L366.18 334.10 L366.84 334.10 L367.51 334.10 L368.17 334.10 L368.83 334.10 L369.50 334.10 L370.16 334.10 L370.83 334.10 L371.49 334.10 L372.16 334.10 L372.82 334.10 L373.48 334.10 L374.15 334.10 L374.81 334.10 L375.48 334.10 L376.14 334.10 L376.81 334.10 L377.47 334.10 L378.13 334.10 L378.80 334.10 L379.46 334.10 L380.13 334.10 L380.79 334.10 L381.46 334.10 L382.12 334.10 L382.78 334.10 L383.45 334.10 L384.11 334.10 L384.78 334.10 L385.44 334.10 L386.11 334.10 L386.77 334.10 L387.44 334.10 L388.10 334.10 L388.76 334.10 L389.43 334.10" fill="none" stroke="#a09c9e" stroke-width="0.5" stroke-linejoin="miter" stroke-miterlimit="10"/>
<path d="M235.97 323.79 L236.64 326.48 L237.30 319.62 L237.96 324.14 L238.63 326.99 L239.29 314.73 L239.96 315.40 L240.62 310.32 L241.29 315.76 L241.95 308.18 L242.62 311.32 L243.28 312.10 L243.94 319.92 L244.61 304.64 L245.27 293.18 L245.94 279.87 L246.60 283.06 L247.27 298.60 L247.93 281.54 L248.59 284.57 L249.26 261.68 L249.92 272.18 L250.59 253.69 L251.25 260.52 L251.92 244.89 L252.58 264.29 L253.24 245.09 L253.91 262.30 L254.57 228.88 L255.24 275.01 L255.90 219.81 L256.57 248.59 L257.23 200.20 L257.89 264.25 L258.56 232.70 L259.22 243.77 L259.89 236.77 L260.55 231.22 L261.22 241.44 L261.88 281.71 L262.54 253.68 L263.21 260.80 L263.87 237.03 L264.54 261.67 L265.20 254.62 L265.87 278.20 L266.53 278.79 L267.19 303.17 L267.86 277.48 L268.52 292.43 L269.19 285.92 L269.85 298.42 L270.52 289.26 L271.18 306.57 L271.84 297.06 L272.51 320.28 L273.17 319.61 L273.84 322.21 L274.50 314.84 L275.17 315.70 L275.83 325.66 L276.50 327.00 L277.16 327.73 L277.82 331.89 L278.49 330.10 L279.15 332.93 L279.82 332.35 L280.48 333.35 L281.15 334.05 L281.81 334.10 L282.47 333.36 L283.14 333.64 L283.80 333.63 L284.47 333.92 L285.13 334.10 L285.80 333.90 L286.46 333.73 L287.12 334.10 L287.79 333.69 L288.45 333.98 L289.12 333.85 L289.78 334.09 L290.45 333.93 L291.11 333.94 L291.77 333.98 L292.44 334.10 L293.10 334.09 L293.77 334.10 L294.43 334.10 L295.10 334.10 L295.76 334.10 L296.42 334.10 L297.09 334.10 L297.75 334.10 L298.42 334.10 L299.08 334.10 L299.75 334.10 L300.41 334.10 L301.07 334.10 L301.74 334.10 L302.40 334.10 L303.07 334.10 L303.73 334.10 L304.40 334.10 L305.06 334.10 L305.72 334.10 L306.39 334.10 L307.05 334.10 L307.72 334.10 L308.38 334.10 L309.05 334.10 L309.71 334.10 L310.37 334.10 L311.04 334.10 L311.70 334.10 L312.37 334.10 L313.03 334.10 L313.70 334.10 L314.36 334.10 L315.03 334.10 L315.69 334.10 L316.35 334.10 L317.02 334.10 L317.68 334.10 L318.35 334.10 L319.01 334.10 L319.68 334.10 L320.34 334.10 L321.00 334.10 L321.67 334.10 L322.33 334.10 L323.00 334.10 L323.66 334.10 L324.33 334.10 L324.99 334.10 L325.65 334.10 L326.32 334.10 L326.98 334.10 L327.65 334.10 L328.31 334.10 L328.98 334.10 L329.64 334.10 L330.30 334.10 L330.97 334.10 L331.63 334.10 L332.30 334.10 L332.96 334.10 L333.63 334.10 L334.29 334.10 L334.95 334.10 L335.62 334.10 L336.28 334.10 L336.95 334.10 L337.61 334.10 L338.28 334.10 L338.94 334.10 L339.60 334.10 L340.27 334.10 L340.93 334.10 L341.60 334.10 L342.26 334.10 L342.93 334.10 L343.59 334.10 L344.25 334.10 L344.92 334.10 L345.58 334.10 L346.25 334.10 L346.91 334.10 L347.58 334.10 L348.24 334.10 L348.90 334.10 L349.57 334.10 L350.23 334.10 L350.90 334.10 L351.56 334.10 L352.23 334.10 L352.89 334.10 L353.56 334.10 L354.22 334.10 L354.88 334.10 L355.55 334.10 L356.21 334.10 L356.88 334.10 L357.54 334.10 L358.21 334.10 L358.87 334.10 L359.53 334.10 L360.20 334.10 L360.86 334.10 L361.53 334.10 L362.19 334.10 L362.86 334.10 L363.52 334.10 L364.18 334.10 L364.85 334.10 L365.51 334.10 L366.18 334.10 L366.84 334.10 L367.51 334.10 L368.17 334.10 L368.83 334.10 L369.50 334.10 L370.16 334.10 L370.83 334.10 L371.49 334.10 L372.16 334.10 L372.82 334.10 L373.48 334.10 L374.15 334.10 L374.81 334.10 L375.48 334.10 L376.14 334.10 L376.81 334.10 L377.47 334.10 L378.13 334.10 L378.80 334.10 L379.46 334.10 L380.13 334.10 L380.79 334.10 L381.46 334.10 L382.12 334.10 L382.78 334.10 L383.45 334.10 L384.11 334.10 L384.78 334.10 L385.44 334.10 L386.11 334.10 L386.77 334.10 L387.44 334.10 L388.10 334.10 L388.76 334.10 L389.43 334.10" fill="none" stroke="#2a2024" stroke-width="0.55" stroke-linejoin="miter" stroke-miterlimit="10"/>
<path d="M246.60 333.22 L247.27 333.50 L247.93 330.83 L248.59 331.88 L249.26 332.52 L249.92 332.73 L250.59 332.11 L251.25 332.54 L251.92 330.31 L252.58 331.24 L253.24 332.03 L253.91 332.31 L254.57 332.67 L255.24 331.74 L255.90 329.94 L256.57 330.31 L257.23 331.02 L257.89 330.51 L258.56 332.75 L259.22 329.12 L259.89 330.13 L260.55 327.62 L261.22 329.52 L261.88 329.70 L262.54 328.37 L263.21 329.24 L263.87 325.36 L264.54 326.49 L265.20 325.69 L265.87 325.11 L266.53 325.82 L267.19 323.18 L267.86 322.44 L268.52 317.39 L269.19 319.99 L269.85 317.83 L270.52 319.70 L271.18 317.67 L271.84 315.67 L272.51 309.00 L273.17 310.76 L273.84 305.82 L274.50 307.90 L275.17 306.30 L275.83 310.10 L276.50 298.57 L277.16 292.40 L277.82 299.76 L278.49 291.77 L279.15 292.63 L279.82 297.67 L280.48 290.96 L281.15 297.16 L281.81 293.95 L282.47 286.76 L283.14 290.61 L283.80 296.87 L284.47 286.47 L285.13 297.65 L285.80 294.29 L286.46 295.77 L287.12 295.92 L287.79 299.63 L288.45 303.64 L289.12 290.75 L289.78 302.66 L290.45 303.30 L291.11 309.56 L291.77 301.54 L292.44 298.16 L293.10 298.83 L293.77 297.43 L294.43 300.66 L295.10 305.47 L295.76 307.78 L296.42 303.46 L297.09 308.63 L297.75 308.15 L298.42 312.22 L299.08 309.05 L299.75 303.28 L300.41 310.18 L301.07 308.90 L301.74 317.63 L302.40 306.07 L303.07 309.27 L303.73 306.08 L304.40 309.89 L305.06 313.46 L305.72 315.17 L306.39 309.40 L307.05 311.17 L307.72 314.26 L308.38 311.52 L309.05 313.37 L309.71 309.19 L310.37 312.77 L311.04 315.35 L311.70 311.86 L312.37 313.38 L313.03 307.09 L313.70 313.18 L314.36 315.89 L315.03 312.02 L315.69 312.69 L316.35 311.11 L317.02 311.33 L317.68 315.24 L318.35 312.25 L319.01 312.45 L319.68 315.88 L320.34 313.96 L321.00 311.50 L321.67 317.01 L322.33 315.38 L323.00 313.40 L323.66 312.18 L324.33 310.24 L324.99 316.02 L325.65 310.78 L326.32 309.70 L326.98 306.73 L327.65 312.84 L328.31 314.34 L328.98 316.22 L329.64 309.56 L330.30 307.09 L330.97 313.23 L331.63 309.47 L332.30 307.98 L332.96 307.51 L333.63 311.70 L334.29 308.16 L334.95 310.22 L335.62 312.96 L336.28 308.87 L336.95 308.38 L337.61 312.61 L338.28 308.35 L338.94 303.69 L339.60 315.25 L340.27 308.56 L340.93 308.50 L341.60 312.05 L342.26 312.07 L342.93 314.69 L343.59 310.84 L344.25 318.28 L344.92 316.86 L345.58 322.65 L346.25 317.65 L346.91 318.60 L347.58 324.65 L348.24 323.67 L348.90 321.18 L349.57 323.90 L350.23 325.99 L350.90 328.49 L351.56 323.76 L352.23 321.15 L352.89 326.45 L353.56 325.30 L354.22 325.90 L354.88 327.34 L355.55 327.36 L356.21 327.66 L356.88 329.59 L357.54 324.96 L358.21 325.39 L358.87 328.69 L359.53 326.92 L360.20 330.93 L360.86 330.42 L361.53 328.99 L362.19 332.08 L362.86 332.44 L363.52 330.72 L364.18 333.53 L364.85 329.74 L365.51 331.04 L366.18 331.78 L366.84 331.63 L367.51 333.24 L368.17 333.43 L368.83 332.23 L369.50 332.31 L370.16 333.00 L370.83 333.24 L371.49 333.65 L372.16 332.72 L372.82 333.21 L373.48 333.68" fill="none" stroke="#cc0c1c" stroke-width="0.85" stroke-linejoin="round"/>
<path d="M245.27 334.60 L245.27 333.68 L245.94 333.58 L246.60 333.71 L247.27 333.45 L247.93 333.57 L248.59 333.31 L249.26 333.23 L249.92 332.86 L250.59 333.59 L251.25 332.88 L251.92 334.10 L252.58 333.32 L253.24 333.24 L253.91 332.90 L254.57 332.89 L255.24 332.26 L255.90 333.06 L256.57 331.77 L257.23 332.29 L257.89 330.86 L258.56 331.16 L259.22 329.97 L259.89 329.95 L260.55 330.81 L261.22 329.45 L261.88 331.00 L262.54 328.82 L263.21 327.27 L263.87 327.12 L264.54 325.79 L265.20 322.51 L265.87 320.79 L266.53 319.06 L267.19 321.65 L267.86 319.26 L268.52 314.10 L269.19 311.57 L269.85 316.93 L270.52 303.94 L271.18 304.49 L271.84 310.18 L272.51 300.78 L273.17 304.16 L273.84 301.44 L274.50 303.07 L275.17 301.16 L275.83 298.26 L276.50 295.14 L277.16 298.25 L277.82 293.00 L278.49 294.33 L279.15 292.50 L279.82 292.80 L280.48 290.64 L281.15 280.83 L281.81 293.48 L282.47 291.82 L283.14 286.30 L283.80 288.56 L284.47 291.31 L285.13 285.88 L285.80 292.76 L286.46 288.56 L287.12 285.25 L287.79 287.55 L288.45 291.78 L289.12 291.49 L289.78 291.71 L290.45 290.94 L291.11 297.68 L291.77 290.23 L292.44 293.04 L293.10 289.89 L293.77 294.56 L294.43 294.86 L295.10 306.95 L295.76 301.88 L296.42 294.93 L297.09 300.84 L297.75 304.11 L298.42 300.75 L299.08 303.22 L299.75 302.66 L300.41 306.77 L301.07 302.89 L301.74 299.19 L302.40 302.88 L303.07 301.75 L303.73 305.08 L304.40 300.67 L305.06 303.21 L305.72 306.00 L306.39 302.35 L307.05 301.27 L307.72 298.05 L308.38 296.20 L309.05 300.48 L309.71 301.57 L310.37 298.66 L311.04 304.47 L311.70 303.07 L312.37 303.27 L313.03 303.56 L313.70 305.29 L314.36 298.16 L315.03 300.59 L315.69 304.50 L316.35 308.84 L317.02 306.01 L317.68 302.67 L318.35 311.01 L319.01 297.08 L319.68 304.34 L320.34 303.95 L321.00 301.38 L321.67 307.90 L322.33 302.64 L323.00 302.57 L323.66 299.84 L324.33 305.32 L324.99 299.40 L325.65 297.09 L326.32 299.77 L326.98 302.30 L327.65 303.00 L328.31 305.90 L328.98 301.33 L329.64 297.16 L330.30 293.76 L330.97 295.70 L331.63 295.42 L332.30 301.56 L332.96 301.68 L333.63 305.78 L334.29 303.07 L334.95 304.96 L335.62 302.47 L336.28 299.89 L336.95 303.09 L337.61 304.33 L338.28 301.51 L338.94 299.38 L339.60 301.41 L340.27 311.06 L340.93 300.96 L341.60 308.56 L342.26 312.36 L342.93 309.80 L343.59 306.53 L344.25 316.59 L344.92 307.67 L345.58 311.85 L346.25 312.00 L346.91 318.19 L347.58 317.06 L348.24 319.53 L348.90 314.93 L349.57 320.55 L350.23 318.80 L350.90 322.02 L351.56 325.02 L352.23 320.62 L352.89 321.00 L353.56 321.43 L354.22 325.93 L354.88 325.40 L355.55 324.88 L356.21 326.08 L356.88 326.85 L357.54 324.38 L358.21 328.92 L358.87 327.64 L359.53 329.91 L360.20 327.74 L360.86 330.23 L361.53 331.42 L362.19 329.77 L362.86 330.91 L363.52 331.70 L364.18 331.78 L364.85 332.33 L365.51 331.49 L366.18 331.86 L366.84 330.99 L367.51 333.03 L368.17 331.68 L368.83 332.52 L369.50 333.94 L370.16 332.44 L370.83 334.10 L371.49 333.49 L372.16 333.24 L372.82 333.48 L372.82 334.60Z" fill="#0a8332" stroke="none"/>
<path d="M245.27 333.68 L245.94 333.58 L246.60 333.71 L247.27 333.45 L247.93 333.57 L248.59 333.31 L249.26 333.23 L249.92 332.86 L250.59 333.59 L251.25 332.88 L251.92 334.10 L252.58 333.32 L253.24 333.24 L253.91 332.90 L254.57 332.89 L255.24 332.26 L255.90 333.06 L256.57 331.77 L257.23 332.29 L257.89 330.86 L258.56 331.16 L259.22 329.97 L259.89 329.95 L260.55 330.81 L261.22 329.45 L261.88 331.00 L262.54 328.82 L263.21 327.27 L263.87 327.12 L264.54 325.79 L265.20 322.51 L265.87 320.79 L266.53 319.06 L267.19 321.65 L267.86 319.26 L268.52 314.10 L269.19 311.57 L269.85 316.93 L270.52 303.94 L271.18 304.49 L271.84 310.18 L272.51 300.78 L273.17 304.16 L273.84 301.44 L274.50 303.07 L275.17 301.16 L275.83 298.26 L276.50 295.14 L277.16 298.25 L277.82 293.00 L278.49 294.33 L279.15 292.50 L279.82 292.80 L280.48 290.64 L281.15 280.83 L281.81 293.48 L282.47 291.82 L283.14 286.30 L283.80 288.56 L284.47 291.31 L285.13 285.88 L285.80 292.76 L286.46 288.56 L287.12 285.25 L287.79 287.55 L288.45 291.78 L289.12 291.49 L289.78 291.71 L290.45 290.94 L291.11 297.68 L291.77 290.23 L292.44 293.04 L293.10 289.89 L293.77 294.56 L294.43 294.86 L295.10 306.95 L295.76 301.88 L296.42 294.93 L297.09 300.84 L297.75 304.11 L298.42 300.75 L299.08 303.22 L299.75 302.66 L300.41 306.77 L301.07 302.89 L301.74 299.19 L302.40 302.88 L303.07 301.75 L303.73 305.08 L304.40 300.67 L305.06 303.21 L305.72 306.00 L306.39 302.35 L307.05 301.27 L307.72 298.05 L308.38 296.20 L309.05 300.48 L309.71 301.57 L310.37 298.66 L311.04 304.47 L311.70 303.07 L312.37 303.27 L313.03 303.56 L313.70 305.29 L314.36 298.16 L315.03 300.59 L315.69 304.50 L316.35 308.84 L317.02 306.01 L317.68 302.67 L318.35 311.01 L319.01 297.08 L319.68 304.34 L320.34 303.95 L321.00 301.38 L321.67 307.90 L322.33 302.64 L323.00 302.57 L323.66 299.84 L324.33 305.32 L324.99 299.40 L325.65 297.09 L326.32 299.77 L326.98 302.30 L327.65 303.00 L328.31 305.90 L328.98 301.33 L329.64 297.16 L330.30 293.76 L330.97 295.70 L331.63 295.42 L332.30 301.56 L332.96 301.68 L333.63 305.78 L334.29 303.07 L334.95 304.96 L335.62 302.47 L336.28 299.89 L336.95 303.09 L337.61 304.33 L338.28 301.51 L338.94 299.38 L339.60 301.41 L340.27 311.06 L340.93 300.96 L341.60 308.56 L342.26 312.36 L342.93 309.80 L343.59 306.53 L344.25 316.59 L344.92 307.67 L345.58 311.85 L346.25 312.00 L346.91 318.19 L347.58 317.06 L348.24 319.53 L348.90 314.93 L349.57 320.55 L350.23 318.80 L350.90 322.02 L351.56 325.02 L352.23 320.62 L352.89 321.00 L353.56 321.43 L354.22 325.93 L354.88 325.40 L355.55 324.88 L356.21 326.08 L356.88 326.85 L357.54 324.38 L358.21 328.92 L358.87 327.64 L359.53 329.91 L360.20 327.74 L360.86 330.23 L361.53 331.42 L362.19 329.77 L362.86 330.91 L363.52 331.70 L364.18 331.78 L364.85 332.33 L365.51 331.49 L366.18 331.86 L366.84 330.99 L367.51 333.03 L368.17 331.68 L368.83 332.52 L369.50 333.94 L370.16 332.44 L370.83 334.10 L371.49 333.49 L372.16 333.24 L372.82 333.48" fill="none" stroke="#0c2414" stroke-width="0.5" stroke-linejoin="round"/>
<path d="M235.2 199.9H390.2V334.1" fill="none" stroke="#666" stroke-width="0.7"/>
<path d="M235.2 199.4V334.5" fill="none" stroke="#333" stroke-width="0.8"/>
<line x1="232.39999999999998" y1="334.10" x2="235.2" y2="334.10" stroke="#222" stroke-width="0.75"/>
<text transform="translate(231.00,334.10) rotate(-90)" x="-1.75" textLength="3.5" lengthAdjust="spacingAndGlyphs" class="ht">0</text>
<line x1="232.39999999999998" y1="307.26" x2="235.2" y2="307.26" stroke="#222" stroke-width="0.75"/>
<text transform="translate(231.00,307.26) rotate(-90)" x="-3.4" textLength="6.8" lengthAdjust="spacingAndGlyphs" class="ht">50</text>
<line x1="232.39999999999998" y1="280.42" x2="235.2" y2="280.42" stroke="#222" stroke-width="0.75"/>
<text transform="translate(231.00,280.42) rotate(-90)" x="-5.0" textLength="10.0" lengthAdjust="spacingAndGlyphs" class="ht">100</text>
<line x1="232.39999999999998" y1="253.58" x2="235.2" y2="253.58" stroke="#222" stroke-width="0.75"/>
<text transform="translate(231.00,253.58) rotate(-90)" x="-5.0" textLength="10.0" lengthAdjust="spacingAndGlyphs" class="ht">150</text>
<line x1="232.39999999999998" y1="226.74" x2="235.2" y2="226.74" stroke="#222" stroke-width="0.75"/>
<text transform="translate(231.00,226.74) rotate(-90)" x="-5.0" textLength="10.0" lengthAdjust="spacingAndGlyphs" class="ht">200</text>
<line x1="232.39999999999998" y1="199.90" x2="235.2" y2="199.90" stroke="#222" stroke-width="0.75"/>
<text transform="translate(231.00,199.90) rotate(-90)" x="-5.0" textLength="10.0" lengthAdjust="spacingAndGlyphs" class="ht">250</text>
<line x1="233.7" y1="328.73" x2="235.2" y2="328.73" stroke="#222" stroke-width="0.6"/>
<line x1="233.7" y1="323.36" x2="235.2" y2="323.36" stroke="#222" stroke-width="0.6"/>
<line x1="233.7" y1="318.00" x2="235.2" y2="318.00" stroke="#222" stroke-width="0.6"/>
<line x1="233.7" y1="312.63" x2="235.2" y2="312.63" stroke="#222" stroke-width="0.6"/>
<line x1="233.7" y1="301.89" x2="235.2" y2="301.89" stroke="#222" stroke-width="0.6"/>
<line x1="233.7" y1="296.52" x2="235.2" y2="296.52" stroke="#222" stroke-width="0.6"/>
<line x1="233.7" y1="291.16" x2="235.2" y2="291.16" stroke="#222" stroke-width="0.6"/>
<line x1="233.7" y1="285.79" x2="235.2" y2="285.79" stroke="#222" stroke-width="0.6"/>
<line x1="233.7" y1="275.05" x2="235.2" y2="275.05" stroke="#222" stroke-width="0.6"/>
<line x1="233.7" y1="269.68" x2="235.2" y2="269.68" stroke="#222" stroke-width="0.6"/>
<line x1="233.7" y1="264.32" x2="235.2" y2="264.32" stroke="#222" stroke-width="0.6"/>
<line x1="233.7" y1="258.95" x2="235.2" y2="258.95" stroke="#222" stroke-width="0.6"/>
<line x1="233.7" y1="248.21" x2="235.2" y2="248.21" stroke="#222" stroke-width="0.6"/>
<line x1="233.7" y1="242.84" x2="235.2" y2="242.84" stroke="#222" stroke-width="0.6"/>
<line x1="233.7" y1="237.48" x2="235.2" y2="237.48" stroke="#222" stroke-width="0.6"/>
<line x1="233.7" y1="232.11" x2="235.2" y2="232.11" stroke="#222" stroke-width="0.6"/>
<line x1="233.7" y1="221.37" x2="235.2" y2="221.37" stroke="#222" stroke-width="0.6"/>
<line x1="233.7" y1="216.00" x2="235.2" y2="216.00" stroke="#222" stroke-width="0.6"/>
<line x1="233.7" y1="210.64" x2="235.2" y2="210.64" stroke="#222" stroke-width="0.6"/>
<line x1="233.7" y1="205.27" x2="235.2" y2="205.27" stroke="#222" stroke-width="0.6"/>
<text transform="translate(223.60,267.60) rotate(-90)" text-anchor="middle" class="hl">Count</text>
<line x1="238.50" y1="334.1" x2="238.50" y2="336.3" stroke="#1a1a1a" stroke-width="0.85"/>
<line x1="243.50" y1="334.1" x2="243.50" y2="336.3" stroke="#1a1a1a" stroke-width="0.85"/>
<line x1="246.50" y1="334.1" x2="246.50" y2="336.3" stroke="#1a1a1a" stroke-width="0.85"/>
<line x1="249.50" y1="334.1" x2="249.50" y2="336.3" stroke="#1a1a1a" stroke-width="0.85"/>
<line x1="252.50" y1="334.1" x2="252.50" y2="336.3" stroke="#1a1a1a" stroke-width="0.85"/>
<line x1="254.50" y1="334.1" x2="254.50" y2="336.3" stroke="#1a1a1a" stroke-width="0.85"/>
<line x1="256.50" y1="334.1" x2="256.50" y2="336.3" stroke="#1a1a1a" stroke-width="0.85"/>
<line x1="258.50" y1="334.1" x2="258.50" y2="337.3" stroke="#111" stroke-width="1"/>
<text x="253.20" y="344.00" textLength="6.0" lengthAdjust="spacingAndGlyphs" class="ht" style="font-size:7.5px">10</text>
<text x="259.40" y="341.00" class="ht" style="font-size:5.0px">2</text>
<line x1="270.50" y1="334.1" x2="270.50" y2="336.3" stroke="#1a1a1a" stroke-width="0.85"/>
<line x1="276.50" y1="334.1" x2="276.50" y2="336.3" stroke="#1a1a1a" stroke-width="0.85"/>
<line x1="281.50" y1="334.1" x2="281.50" y2="336.3" stroke="#1a1a1a" stroke-width="0.85"/>
<line x1="285.50" y1="334.1" x2="285.50" y2="336.3" stroke="#1a1a1a" stroke-width="0.85"/>
<line x1="288.50" y1="334.1" x2="288.50" y2="336.3" stroke="#1a1a1a" stroke-width="0.85"/>
<line x1="291.50" y1="334.1" x2="291.50" y2="336.3" stroke="#1a1a1a" stroke-width="0.85"/>
<line x1="293.50" y1="334.1" x2="293.50" y2="336.3" stroke="#1a1a1a" stroke-width="0.85"/>
<line x1="295.50" y1="334.1" x2="295.50" y2="336.3" stroke="#1a1a1a" stroke-width="0.85"/>
<line x1="297.50" y1="334.1" x2="297.50" y2="337.3" stroke="#111" stroke-width="1"/>
<text x="291.80" y="344.00" textLength="6.0" lengthAdjust="spacingAndGlyphs" class="ht" style="font-size:7.5px">10</text>
<text x="298.00" y="341.00" class="ht" style="font-size:5.0px">3</text>
<line x1="308.50" y1="334.1" x2="308.50" y2="336.3" stroke="#1a1a1a" stroke-width="0.85"/>
<line x1="315.50" y1="334.1" x2="315.50" y2="336.3" stroke="#1a1a1a" stroke-width="0.85"/>
<line x1="320.50" y1="334.1" x2="320.50" y2="336.3" stroke="#1a1a1a" stroke-width="0.85"/>
<line x1="323.50" y1="334.1" x2="323.50" y2="336.3" stroke="#1a1a1a" stroke-width="0.85"/>
<line x1="327.50" y1="334.1" x2="327.50" y2="336.3" stroke="#1a1a1a" stroke-width="0.85"/>
<line x1="329.50" y1="334.1" x2="329.50" y2="336.3" stroke="#1a1a1a" stroke-width="0.85"/>
<line x1="331.50" y1="334.1" x2="331.50" y2="336.3" stroke="#1a1a1a" stroke-width="0.85"/>
<line x1="333.50" y1="334.1" x2="333.50" y2="336.3" stroke="#1a1a1a" stroke-width="0.85"/>
<line x1="335.50" y1="334.1" x2="335.50" y2="337.3" stroke="#111" stroke-width="1"/>
<text x="330.40" y="344.00" textLength="6.0" lengthAdjust="spacingAndGlyphs" class="ht" style="font-size:7.5px">10</text>
<text x="336.60" y="341.00" class="ht" style="font-size:5.0px">4</text>
<line x1="347.50" y1="334.1" x2="347.50" y2="336.3" stroke="#1a1a1a" stroke-width="0.85"/>
<line x1="354.50" y1="334.1" x2="354.50" y2="336.3" stroke="#1a1a1a" stroke-width="0.85"/>
<line x1="358.50" y1="334.1" x2="358.50" y2="336.3" stroke="#1a1a1a" stroke-width="0.85"/>
<line x1="362.50" y1="334.1" x2="362.50" y2="336.3" stroke="#1a1a1a" stroke-width="0.85"/>
<line x1="365.50" y1="334.1" x2="365.50" y2="336.3" stroke="#1a1a1a" stroke-width="0.85"/>
<line x1="368.50" y1="334.1" x2="368.50" y2="336.3" stroke="#1a1a1a" stroke-width="0.85"/>
<line x1="370.50" y1="334.1" x2="370.50" y2="336.3" stroke="#1a1a1a" stroke-width="0.85"/>
<line x1="372.50" y1="334.1" x2="372.50" y2="336.3" stroke="#1a1a1a" stroke-width="0.85"/>
<line x1="374.50" y1="334.1" x2="374.50" y2="337.3" stroke="#111" stroke-width="1"/>
<text x="369.00" y="344.00" textLength="6.0" lengthAdjust="spacingAndGlyphs" class="ht" style="font-size:7.5px">10</text>
<text x="375.20" y="341.00" class="ht" style="font-size:5.0px">5</text>
<line x1="385.50" y1="334.1" x2="385.50" y2="336.3" stroke="#1a1a1a" stroke-width="0.85"/>
<text x="291.40" y="352.30" textLength="41.6" lengthAdjust="spacingAndGlyphs" class="hl" style="stroke:#1a2626;stroke-width:0.22">TRAIL-R1 PE-A</text>
<text x="305.1" y="362.8" text-anchor="middle" class="cap"><tspan>(</tspan><tspan font-weight="bold">c</tspan><tspan>)</tspan></text>
<rect x="19.6" y="378.0" width="156.6" height="135.3" fill="#fff" stroke="none"/>
<path d="M17.400000000000002 513.3H176.2" fill="none" stroke="#333" stroke-width="0.8"/>
<path d="M20.37 498.51 L21.04 504.49 L21.70 495.30 L22.37 497.02 L23.03 495.29 L23.70 507.29 L24.36 492.41 L25.03 505.73 L25.69 490.71 L26.36 496.92 L27.02 484.27 L27.69 497.40 L28.36 476.33 L29.02 480.14 L29.69 462.45 L30.35 456.76 L31.02 458.51 L31.68 443.48 L32.35 440.94 L33.01 467.74 L33.68 446.78 L34.35 445.48 L35.01 411.44 L35.68 435.13 L36.34 430.81 L37.01 440.84 L37.67 394.98 L38.34 439.58 L39.00 420.39 L39.67 438.08 L40.33 412.28 L41.00 421.46 L41.67 398.47 L42.33 448.26 L43.00 394.34 L43.66 423.92 L44.33 381.79 L44.99 459.77 L45.66 411.63 L46.32 383.26 L46.99 410.60 L47.66 457.87 L48.32 449.83 L48.99 439.82 L49.65 458.36 L50.32 435.42 L50.98 448.27 L51.65 462.04 L52.31 462.11 L52.98 452.06 L53.64 453.39 L54.31 474.86 L54.98 467.06 L55.64 483.57 L56.31 482.76 L56.97 489.76 L57.64 486.66 L58.30 497.91 L58.97 495.58 L59.63 500.13 L60.30 500.88 L60.97 508.79 L61.63 505.37 L62.30 509.36 L62.96 510.88 L63.63 510.51 L64.29 511.79 L64.96 512.85 L65.62 512.12 L66.29 513.16 L66.95 512.32 L67.62 512.76 L68.29 513.08 L68.95 513.21 L69.62 512.83 L70.28 513.05 L70.95 513.19 L71.61 513.30 L72.28 513.29 L72.94 513.30 L73.61 513.09 L74.27 513.23 L74.94 513.30 L75.61 513.24 L76.27 513.23 L76.94 513.30 L77.60 513.30 L78.27 513.30 L78.93 513.30 L79.60 513.30 L80.26 513.30 L80.93 513.30 L81.60 513.30 L82.26 513.30 L82.93 513.30 L83.59 513.30 L84.26 513.30 L84.92 513.30 L85.59 513.30 L86.25 513.30 L86.92 513.30 L87.58 513.30 L88.25 513.30 L88.92 513.30 L89.58 513.30 L90.25 513.30 L90.91 513.30 L91.58 513.30 L92.24 513.30 L92.91 513.30 L93.57 513.30 L94.24 513.30 L94.91 513.30 L95.57 513.30 L96.24 513.30 L96.90 513.30 L97.57 513.30 L98.23 513.30 L98.90 513.30 L99.56 513.30 L100.23 513.30 L100.89 513.30 L101.56 513.30 L102.23 513.30 L102.89 513.30 L103.56 513.30 L104.22 513.30 L104.89 513.30 L105.55 513.30 L106.22 513.30 L106.88 513.30 L107.55 513.30 L108.22 513.30 L108.88 513.30 L109.55 513.30 L110.21 513.30 L110.88 513.30 L111.54 513.30 L112.21 513.30 L112.87 513.30 L113.54 513.30 L114.20 513.30 L114.87 513.30 L115.54 513.30 L116.20 513.30 L116.87 513.30 L117.53 513.30 L118.20 513.30 L118.86 513.30 L119.53 513.30 L120.19 513.30 L120.86 513.30 L121.53 513.30 L122.19 513.30 L122.86 513.30 L123.52 513.30 L124.19 513.30 L124.85 513.30 L125.52 513.30 L126.18 513.30 L126.85 513.30 L127.51 513.30 L128.18 513.30 L128.85 513.30 L129.51 513.30 L130.18 513.30 L130.84 513.30 L131.51 513.30 L132.17 513.30 L132.84 513.30 L133.50 513.30 L134.17 513.30 L134.83 513.30 L135.50 513.30 L136.17 513.30 L136.83 513.30 L137.50 513.30 L138.16 513.30 L138.83 513.30 L139.49 513.30 L140.16 513.30 L140.82 513.30 L141.49 513.30 L142.16 513.30 L142.82 513.30 L143.49 513.30 L144.15 513.30 L144.82 513.30 L145.48 513.30 L146.15 513.30 L146.81 513.30 L147.48 513.30 L148.14 513.30 L148.81 513.30 L149.48 513.30 L150.14 513.30 L150.81 513.30 L151.47 513.30 L152.14 513.30 L152.80 513.30 L153.47 513.30 L154.13 513.30 L154.80 513.30 L155.47 513.30 L156.13 513.30 L156.80 513.30 L157.46 513.30 L158.13 513.30 L158.79 513.30 L159.46 513.30 L160.12 513.30 L160.79 513.30 L161.45 513.30 L162.12 513.30 L162.79 513.30 L163.45 513.30 L164.12 513.30 L164.78 513.30 L165.45 513.30 L166.11 513.30 L166.78 513.30 L167.44 513.30 L168.11 513.30 L168.78 513.30 L169.44 513.30 L170.11 513.30 L170.77 513.30 L171.44 513.30 L172.10 513.30 L172.77 513.30 L173.43 513.30 L174.10 513.30 L174.76 513.30 L175.43 513.30" fill="none" stroke="#a09c9e" stroke-width="0.5" stroke-linejoin="miter" stroke-miterlimit="10"/>
<path d="M20.37 497.20 L21.04 495.83 L21.70 498.01 L22.37 500.87 L23.03 494.68 L23.70 500.49 L24.36 505.58 L25.03 495.70 L25.69 491.64 L26.36 496.04 L27.02 487.98 L27.69 485.52 L28.36 483.42 L29.02 488.20 L29.69 473.86 L30.35 480.19 L31.02 474.99 L31.68 487.30 L32.35 440.02 L33.01 457.99 L33.68 430.16 L34.35 452.03 L35.01 472.82 L35.68 464.26 L36.34 428.56 L37.01 459.57 L37.67 410.57 L38.34 451.43 L39.00 392.33 L39.67 412.18 L40.33 439.63 L41.00 407.59 L41.67 378.30 L42.33 430.46 L43.00 406.77 L43.66 439.99 L44.33 400.39 L44.99 426.44 L45.66 447.93 L46.32 436.86 L46.99 394.27 L47.66 438.95 L48.32 420.01 L48.99 451.43 L49.65 447.30 L50.32 455.03 L50.98 448.39 L51.65 465.90 L52.31 454.42 L52.98 481.78 L53.64 469.78 L54.31 479.74 L54.98 476.44 L55.64 489.95 L56.31 490.37 L56.97 495.02 L57.64 491.20 L58.30 488.17 L58.97 497.51 L59.63 503.07 L60.30 502.97 L60.97 507.84 L61.63 507.23 L62.30 509.41 L62.96 510.23 L63.63 512.43 L64.29 511.50 L64.96 511.36 L65.62 512.10 L66.29 513.09 L66.95 512.22 L67.62 512.93 L68.29 512.26 L68.95 513.03 L69.62 512.83 L70.28 513.21 L70.95 513.09 L71.61 513.12 L72.28 512.99 L72.94 513.14 L73.61 513.10 L74.27 513.30 L74.94 513.01 L75.61 513.30 L76.27 513.30 L76.94 513.30 L77.60 513.30 L78.27 513.30 L78.93 513.30 L79.60 513.30 L80.26 513.30 L80.93 513.30 L81.60 513.30 L82.26 513.30 L82.93 513.30 L83.59 513.30 L84.26 513.30 L84.92 513.30 L85.59 513.30 L86.25 513.30 L86.92 513.30 L87.58 513.30 L88.25 513.30 L88.92 513.30 L89.58 513.30 L90.25 513.30 L90.91 513.30 L91.58 513.30 L92.24 513.30 L92.91 513.30 L93.57 513.30 L94.24 513.30 L94.91 513.30 L95.57 513.30 L96.24 513.30 L96.90 513.30 L97.57 513.30 L98.23 513.30 L98.90 513.30 L99.56 513.30 L100.23 513.30 L100.89 513.30 L101.56 513.30 L102.23 513.30 L102.89 513.30 L103.56 513.30 L104.22 513.30 L104.89 513.30 L105.55 513.30 L106.22 513.30 L106.88 513.30 L107.55 513.30 L108.22 513.30 L108.88 513.30 L109.55 513.30 L110.21 513.30 L110.88 513.30 L111.54 513.30 L112.21 513.30 L112.87 513.30 L113.54 513.30 L114.20 513.30 L114.87 513.30 L115.54 513.30 L116.20 513.30 L116.87 513.30 L117.53 513.30 L118.20 513.30 L118.86 513.30 L119.53 513.30 L120.19 513.30 L120.86 513.30 L121.53 513.30 L122.19 513.30 L122.86 513.30 L123.52 513.30 L124.19 513.30 L124.85 513.30 L125.52 513.30 L126.18 513.30 L126.85 513.30 L127.51 513.30 L128.18 513.30 L128.85 513.30 L129.51 513.30 L130.18 513.30 L130.84 513.30 L131.51 513.30 L132.17 513.30 L132.84 513.30 L133.50 513.30 L134.17 513.30 L134.83 513.30 L135.50 513.30 L136.17 513.30 L136.83 513.30 L137.50 513.30 L138.16 513.30 L138.83 513.30 L139.49 513.30 L140.16 513.30 L140.82 513.30 L141.49 513.30 L142.16 513.30 L142.82 513.30 L143.49 513.30 L144.15 513.30 L144.82 513.30 L145.48 513.30 L146.15 513.30 L146.81 513.30 L147.48 513.30 L148.14 513.30 L148.81 513.30 L149.48 513.30 L150.14 513.30 L150.81 513.30 L151.47 513.30 L152.14 513.30 L152.80 513.30 L153.47 513.30 L154.13 513.30 L154.80 513.30 L155.47 513.30 L156.13 513.30 L156.80 513.30 L157.46 513.30 L158.13 513.30 L158.79 513.30 L159.46 513.30 L160.12 513.30 L160.79 513.30 L161.45 513.30 L162.12 513.30 L162.79 513.30 L163.45 513.30 L164.12 513.30 L164.78 513.30 L165.45 513.30 L166.11 513.30 L166.78 513.30 L167.44 513.30 L168.11 513.30 L168.78 513.30 L169.44 513.30 L170.11 513.30 L170.77 513.30 L171.44 513.30 L172.10 513.30 L172.77 513.30 L173.43 513.30 L174.10 513.30 L174.76 513.30 L175.43 513.30" fill="none" stroke="#2a2024" stroke-width="0.55" stroke-linejoin="miter" stroke-miterlimit="10"/>
<path d="M31.02 512.80 L31.68 512.78 L32.35 512.10 L33.01 510.95 L33.68 511.77 L34.35 511.51 L35.01 509.87 L35.68 511.00 L36.34 509.34 L37.01 511.05 L37.67 510.67 L38.34 511.94 L39.00 512.84 L39.67 511.10 L40.33 510.49 L41.00 510.82 L41.67 511.73 L42.33 509.06 L43.00 509.49 L43.66 509.28 L44.33 510.08 L44.99 506.40 L45.66 506.29 L46.32 507.70 L46.99 508.06 L47.66 506.97 L48.32 503.88 L48.99 502.23 L49.65 505.48 L50.32 505.70 L50.98 507.87 L51.65 498.60 L52.31 504.34 L52.98 498.45 L53.64 497.92 L54.31 494.34 L54.98 499.73 L55.64 500.11 L56.31 493.29 L56.97 490.59 L57.64 486.26 L58.30 493.56 L58.97 487.50 L59.63 484.87 L60.30 487.09 L60.97 481.29 L61.63 476.18 L62.30 478.00 L62.96 482.25 L63.63 473.64 L64.29 470.41 L64.96 471.00 L65.62 469.18 L66.29 478.85 L66.95 469.08 L67.62 468.10 L68.29 472.89 L68.95 472.10 L69.62 475.72 L70.28 467.84 L70.95 475.08 L71.61 478.66 L72.28 474.95 L72.94 476.20 L73.61 474.94 L74.27 481.78 L74.94 482.06 L75.61 478.98 L76.27 473.24 L76.94 480.74 L77.60 488.40 L78.27 483.87 L78.93 488.20 L79.60 492.84 L80.26 489.67 L80.93 489.58 L81.60 486.54 L82.26 483.85 L82.93 484.76 L83.59 486.15 L84.26 490.50 L84.92 488.87 L85.59 489.67 L86.25 485.09 L86.92 491.82 L87.58 491.59 L88.25 485.12 L88.92 488.16 L89.58 491.53 L90.25 489.67 L90.91 489.81 L91.58 489.78 L92.24 487.94 L92.91 489.40 L93.57 491.17 L94.24 492.22 L94.91 496.10 L95.57 492.06 L96.24 487.11 L96.90 490.03 L97.57 492.83 L98.23 491.57 L98.90 493.53 L99.56 489.96 L100.23 484.60 L100.89 485.26 L101.56 487.20 L102.23 488.54 L102.89 491.73 L103.56 494.93 L104.22 491.04 L104.89 492.43 L105.55 488.35 L106.22 490.38 L106.88 492.61 L107.55 489.30 L108.22 483.75 L108.88 493.43 L109.55 486.90 L110.21 488.53 L110.88 490.65 L111.54 492.67 L112.21 490.12 L112.87 489.41 L113.54 487.58 L114.20 487.69 L114.87 488.77 L115.54 491.86 L116.20 488.54 L116.87 490.89 L117.53 492.63 L118.20 486.18 L118.86 491.13 L119.53 492.74 L120.19 488.41 L120.86 494.91 L121.53 488.62 L122.19 487.14 L122.86 490.34 L123.52 488.55 L124.19 482.73 L124.85 485.51 L125.52 488.00 L126.18 489.93 L126.85 494.19 L127.51 493.91 L128.18 495.18 L128.85 495.14 L129.51 495.78 L130.18 499.31 L130.84 494.06 L131.51 501.85 L132.17 499.45 L132.84 498.73 L133.50 501.74 L134.17 503.70 L134.83 502.71 L135.50 499.27 L136.17 502.61 L136.83 505.00 L137.50 503.86 L138.16 505.89 L138.83 509.42 L139.49 506.06 L140.16 505.06 L140.82 505.25 L141.49 507.58 L142.16 510.00 L142.82 506.33 L143.49 508.69 L144.15 507.76 L144.82 507.60 L145.48 509.02 L146.15 509.78 L146.81 510.70 L147.48 510.68 L148.14 510.38 L148.81 511.15 L149.48 510.50 L150.14 513.03 L150.81 512.29 L151.47 511.61 L152.14 512.38 L152.80 512.41 L153.47 512.95 L154.13 511.80 L154.80 511.34 L155.47 513.10 L156.13 512.00 L156.80 512.61 L157.46 512.85" fill="none" stroke="#cc0c1c" stroke-width="0.85" stroke-linejoin="round"/>
<path d="M46.32 513.80 L46.32 512.64 L46.99 512.92 L47.66 512.82 L48.32 512.69 L48.99 512.79 L49.65 512.71 L50.32 513.30 L50.98 512.00 L51.65 510.06 L52.31 510.34 L52.98 511.53 L53.64 507.01 L54.31 506.69 L54.98 506.59 L55.64 505.16 L56.31 502.83 L56.97 499.14 L57.64 498.12 L58.30 497.46 L58.97 492.87 L59.63 488.83 L60.30 491.42 L60.97 482.91 L61.63 485.49 L62.30 481.73 L62.96 480.58 L63.63 478.58 L64.29 477.78 L64.96 484.58 L65.62 478.71 L66.29 470.25 L66.95 476.34 L67.62 470.76 L68.29 476.10 L68.95 471.27 L69.62 461.48 L70.28 465.48 L70.95 469.32 L71.61 467.97 L72.28 471.93 L72.94 462.60 L73.61 465.10 L74.27 460.61 L74.94 459.91 L75.61 464.08 L76.27 466.46 L76.94 467.86 L77.60 464.82 L78.27 463.43 L78.93 458.10 L79.60 468.21 L80.26 462.72 L80.93 469.29 L81.60 467.76 L82.26 462.67 L82.93 464.21 L83.59 468.95 L84.26 469.88 L84.92 463.28 L85.59 468.91 L86.25 469.87 L86.92 473.30 L87.58 460.28 L88.25 462.82 L88.92 468.44 L89.58 462.34 L90.25 469.56 L90.91 473.26 L91.58 470.38 L92.24 467.58 L92.91 477.64 L93.57 469.32 L94.24 470.03 L94.91 469.40 L95.57 473.66 L96.24 471.89 L96.90 482.68 L97.57 477.16 L98.23 473.79 L98.90 476.00 L99.56 477.47 L100.23 483.24 L100.89 479.96 L101.56 485.80 L102.23 481.17 L102.89 479.69 L103.56 483.04 L104.22 480.18 L104.89 482.24 L105.55 479.81 L106.22 484.37 L106.88 488.90 L107.55 488.24 L108.22 487.10 L108.88 485.13 L109.55 485.26 L110.21 488.31 L110.88 486.11 L111.54 488.91 L112.21 485.40 L112.87 491.78 L113.54 484.76 L114.20 487.83 L114.87 490.26 L115.54 492.65 L116.20 488.39 L116.87 492.10 L117.53 489.02 L118.20 486.18 L118.86 491.31 L119.53 491.80 L120.19 491.66 L120.86 495.16 L121.53 489.44 L122.19 495.62 L122.86 494.02 L123.52 495.57 L124.19 498.43 L124.85 494.54 L125.52 497.52 L126.18 500.47 L126.85 501.09 L127.51 504.41 L128.18 503.21 L128.85 500.01 L129.51 500.70 L130.18 504.75 L130.84 502.55 L131.51 502.58 L132.17 503.56 L132.84 503.43 L133.50 509.03 L134.17 506.35 L134.83 508.61 L135.50 506.93 L136.17 509.39 L136.83 508.93 L137.50 508.55 L138.16 511.59 L138.83 510.96 L139.49 511.35 L140.16 511.12 L140.82 512.70 L141.49 511.33 L142.16 511.14 L142.82 512.27 L143.49 512.56 L144.15 512.91 L144.82 512.77 L144.82 513.80Z" fill="#0a8332" stroke="none"/>
<path d="M46.32 512.64 L46.99 512.92 L47.66 512.82 L48.32 512.69 L48.99 512.79 L49.65 512.71 L50.32 513.30 L50.98 512.00 L51.65 510.06 L52.31 510.34 L52.98 511.53 L53.64 507.01 L54.31 506.69 L54.98 506.59 L55.64 505.16 L56.31 502.83 L56.97 499.14 L57.64 498.12 L58.30 497.46 L58.97 492.87 L59.63 488.83 L60.30 491.42 L60.97 482.91 L61.63 485.49 L62.30 481.73 L62.96 480.58 L63.63 478.58 L64.29 477.78 L64.96 484.58 L65.62 478.71 L66.29 470.25 L66.95 476.34 L67.62 470.76 L68.29 476.10 L68.95 471.27 L69.62 461.48 L70.28 465.48 L70.95 469.32 L71.61 467.97 L72.28 471.93 L72.94 462.60 L73.61 465.10 L74.27 460.61 L74.94 459.91 L75.61 464.08 L76.27 466.46 L76.94 467.86 L77.60 464.82 L78.27 463.43 L78.93 458.10 L79.60 468.21 L80.26 462.72 L80.93 469.29 L81.60 467.76 L82.26 462.67 L82.93 464.21 L83.59 468.95 L84.26 469.88 L84.92 463.28 L85.59 468.91 L86.25 469.87 L86.92 473.30 L87.58 460.28 L88.25 462.82 L88.92 468.44 L89.58 462.34 L90.25 469.56 L90.91 473.26 L91.58 470.38 L92.24 467.58 L92.91 477.64 L93.57 469.32 L94.24 470.03 L94.91 469.40 L95.57 473.66 L96.24 471.89 L96.90 482.68 L97.57 477.16 L98.23 473.79 L98.90 476.00 L99.56 477.47 L100.23 483.24 L100.89 479.96 L101.56 485.80 L102.23 481.17 L102.89 479.69 L103.56 483.04 L104.22 480.18 L104.89 482.24 L105.55 479.81 L106.22 484.37 L106.88 488.90 L107.55 488.24 L108.22 487.10 L108.88 485.13 L109.55 485.26 L110.21 488.31 L110.88 486.11 L111.54 488.91 L112.21 485.40 L112.87 491.78 L113.54 484.76 L114.20 487.83 L114.87 490.26 L115.54 492.65 L116.20 488.39 L116.87 492.10 L117.53 489.02 L118.20 486.18 L118.86 491.31 L119.53 491.80 L120.19 491.66 L120.86 495.16 L121.53 489.44 L122.19 495.62 L122.86 494.02 L123.52 495.57 L124.19 498.43 L124.85 494.54 L125.52 497.52 L126.18 500.47 L126.85 501.09 L127.51 504.41 L128.18 503.21 L128.85 500.01 L129.51 500.70 L130.18 504.75 L130.84 502.55 L131.51 502.58 L132.17 503.56 L132.84 503.43 L133.50 509.03 L134.17 506.35 L134.83 508.61 L135.50 506.93 L136.17 509.39 L136.83 508.93 L137.50 508.55 L138.16 511.59 L138.83 510.96 L139.49 511.35 L140.16 511.12 L140.82 512.70 L141.49 511.33 L142.16 511.14 L142.82 512.27 L143.49 512.56 L144.15 512.91 L144.82 512.77" fill="none" stroke="#0c2414" stroke-width="0.5" stroke-linejoin="round"/>
<path d="M19.6 378.0H176.2V513.3" fill="none" stroke="#666" stroke-width="0.7"/>
<path d="M19.6 377.5V513.6999999999999" fill="none" stroke="#333" stroke-width="0.8"/>
<line x1="16.8" y1="513.30" x2="19.6" y2="513.30" stroke="#222" stroke-width="0.75"/>
<text transform="translate(15.40,513.30) rotate(-90)" x="-1.75" textLength="3.5" lengthAdjust="spacingAndGlyphs" class="ht">0</text>
<line x1="16.8" y1="486.24" x2="19.6" y2="486.24" stroke="#222" stroke-width="0.75"/>
<text transform="translate(15.40,486.24) rotate(-90)" x="-3.4" textLength="6.8" lengthAdjust="spacingAndGlyphs" class="ht">50</text>
<line x1="16.8" y1="459.18" x2="19.6" y2="459.18" stroke="#222" stroke-width="0.75"/>
<text transform="translate(15.40,459.18) rotate(-90)" x="-5.0" textLength="10.0" lengthAdjust="spacingAndGlyphs" class="ht">100</text>
<line x1="16.8" y1="432.12" x2="19.6" y2="432.12" stroke="#222" stroke-width="0.75"/>
<text transform="translate(15.40,432.12) rotate(-90)" x="-5.0" textLength="10.0" lengthAdjust="spacingAndGlyphs" class="ht">150</text>
<line x1="16.8" y1="405.06" x2="19.6" y2="405.06" stroke="#222" stroke-width="0.75"/>
<text transform="translate(15.40,405.06) rotate(-90)" x="-5.0" textLength="10.0" lengthAdjust="spacingAndGlyphs" class="ht">200</text>
<line x1="16.8" y1="378.00" x2="19.6" y2="378.00" stroke="#222" stroke-width="0.75"/>
<text transform="translate(15.40,378.00) rotate(-90)" x="-5.0" textLength="10.0" lengthAdjust="spacingAndGlyphs" class="ht">250</text>
<line x1="18.1" y1="507.89" x2="19.6" y2="507.89" stroke="#222" stroke-width="0.6"/>
<line x1="18.1" y1="502.48" x2="19.6" y2="502.48" stroke="#222" stroke-width="0.6"/>
<line x1="18.1" y1="497.06" x2="19.6" y2="497.06" stroke="#222" stroke-width="0.6"/>
<line x1="18.1" y1="491.65" x2="19.6" y2="491.65" stroke="#222" stroke-width="0.6"/>
<line x1="18.1" y1="480.83" x2="19.6" y2="480.83" stroke="#222" stroke-width="0.6"/>
<line x1="18.1" y1="475.42" x2="19.6" y2="475.42" stroke="#222" stroke-width="0.6"/>
<line x1="18.1" y1="470.00" x2="19.6" y2="470.00" stroke="#222" stroke-width="0.6"/>
<line x1="18.1" y1="464.59" x2="19.6" y2="464.59" stroke="#222" stroke-width="0.6"/>
<line x1="18.1" y1="453.77" x2="19.6" y2="453.77" stroke="#222" stroke-width="0.6"/>
<line x1="18.1" y1="448.36" x2="19.6" y2="448.36" stroke="#222" stroke-width="0.6"/>
<line x1="18.1" y1="442.94" x2="19.6" y2="442.94" stroke="#222" stroke-width="0.6"/>
<line x1="18.1" y1="437.53" x2="19.6" y2="437.53" stroke="#222" stroke-width="0.6"/>
<line x1="18.1" y1="426.71" x2="19.6" y2="426.71" stroke="#222" stroke-width="0.6"/>
<line x1="18.1" y1="421.30" x2="19.6" y2="421.30" stroke="#222" stroke-width="0.6"/>
<line x1="18.1" y1="415.88" x2="19.6" y2="415.88" stroke="#222" stroke-width="0.6"/>
<line x1="18.1" y1="410.47" x2="19.6" y2="410.47" stroke="#222" stroke-width="0.6"/>
<line x1="18.1" y1="399.65" x2="19.6" y2="399.65" stroke="#222" stroke-width="0.6"/>
<line x1="18.1" y1="394.24" x2="19.6" y2="394.24" stroke="#222" stroke-width="0.6"/>
<line x1="18.1" y1="388.82" x2="19.6" y2="388.82" stroke="#222" stroke-width="0.6"/>
<line x1="18.1" y1="383.41" x2="19.6" y2="383.41" stroke="#222" stroke-width="0.6"/>
<text transform="translate(8.00,446.25) rotate(-90)" text-anchor="middle" class="hl">Count</text>
<line x1="22.50" y1="513.3" x2="22.50" y2="515.5" stroke="#1a1a1a" stroke-width="0.85"/>
<line x1="27.50" y1="513.3" x2="27.50" y2="515.5" stroke="#1a1a1a" stroke-width="0.85"/>
<line x1="31.50" y1="513.3" x2="31.50" y2="515.5" stroke="#1a1a1a" stroke-width="0.85"/>
<line x1="34.50" y1="513.3" x2="34.50" y2="515.5" stroke="#1a1a1a" stroke-width="0.85"/>
<line x1="36.50" y1="513.3" x2="36.50" y2="515.5" stroke="#1a1a1a" stroke-width="0.85"/>
<line x1="39.50" y1="513.3" x2="39.50" y2="515.5" stroke="#1a1a1a" stroke-width="0.85"/>
<line x1="41.50" y1="513.3" x2="41.50" y2="515.5" stroke="#1a1a1a" stroke-width="0.85"/>
<line x1="42.50" y1="513.3" x2="42.50" y2="516.5" stroke="#111" stroke-width="1"/>
<text x="37.60" y="523.50" textLength="6.0" lengthAdjust="spacingAndGlyphs" class="ht" style="font-size:7.5px">10</text>
<text x="43.80" y="520.50" class="ht" style="font-size:5.0px">2</text>
<line x1="54.50" y1="513.3" x2="54.50" y2="515.5" stroke="#1a1a1a" stroke-width="0.85"/>
<line x1="61.50" y1="513.3" x2="61.50" y2="515.5" stroke="#1a1a1a" stroke-width="0.85"/>
<line x1="65.50" y1="513.3" x2="65.50" y2="515.5" stroke="#1a1a1a" stroke-width="0.85"/>
<line x1="69.50" y1="513.3" x2="69.50" y2="515.5" stroke="#1a1a1a" stroke-width="0.85"/>
<line x1="72.50" y1="513.3" x2="72.50" y2="515.5" stroke="#1a1a1a" stroke-width="0.85"/>
<line x1="75.50" y1="513.3" x2="75.50" y2="515.5" stroke="#1a1a1a" stroke-width="0.85"/>
<line x1="77.50" y1="513.3" x2="77.50" y2="515.5" stroke="#1a1a1a" stroke-width="0.85"/>
<line x1="79.50" y1="513.3" x2="79.50" y2="515.5" stroke="#1a1a1a" stroke-width="0.85"/>
<line x1="81.50" y1="513.3" x2="81.50" y2="516.5" stroke="#111" stroke-width="1"/>
<text x="76.10" y="523.50" textLength="6.0" lengthAdjust="spacingAndGlyphs" class="ht" style="font-size:7.5px">10</text>
<text x="82.30" y="520.50" class="ht" style="font-size:5.0px">3</text>
<line x1="92.50" y1="513.3" x2="92.50" y2="515.5" stroke="#1a1a1a" stroke-width="0.85"/>
<line x1="99.50" y1="513.3" x2="99.50" y2="515.5" stroke="#1a1a1a" stroke-width="0.85"/>
<line x1="104.50" y1="513.3" x2="104.50" y2="515.5" stroke="#1a1a1a" stroke-width="0.85"/>
<line x1="108.50" y1="513.3" x2="108.50" y2="515.5" stroke="#1a1a1a" stroke-width="0.85"/>
<line x1="111.50" y1="513.3" x2="111.50" y2="515.5" stroke="#1a1a1a" stroke-width="0.85"/>
<line x1="113.50" y1="513.3" x2="113.50" y2="515.5" stroke="#1a1a1a" stroke-width="0.85"/>
<line x1="116.50" y1="513.3" x2="116.50" y2="515.5" stroke="#1a1a1a" stroke-width="0.85"/>
<line x1="118.50" y1="513.3" x2="118.50" y2="515.5" stroke="#1a1a1a" stroke-width="0.85"/>
<line x1="119.50" y1="513.3" x2="119.50" y2="516.5" stroke="#111" stroke-width="1"/>
<text x="114.60" y="523.50" textLength="6.0" lengthAdjust="spacingAndGlyphs" class="ht" style="font-size:7.5px">10</text>
<text x="120.80" y="520.50" class="ht" style="font-size:5.0px">4</text>
<line x1="131.50" y1="513.3" x2="131.50" y2="515.5" stroke="#1a1a1a" stroke-width="0.85"/>
<line x1="138.50" y1="513.3" x2="138.50" y2="515.5" stroke="#1a1a1a" stroke-width="0.85"/>
<line x1="142.50" y1="513.3" x2="142.50" y2="515.5" stroke="#1a1a1a" stroke-width="0.85"/>
<line x1="146.50" y1="513.3" x2="146.50" y2="515.5" stroke="#1a1a1a" stroke-width="0.85"/>
<line x1="149.50" y1="513.3" x2="149.50" y2="515.5" stroke="#1a1a1a" stroke-width="0.85"/>
<line x1="152.50" y1="513.3" x2="152.50" y2="515.5" stroke="#1a1a1a" stroke-width="0.85"/>
<line x1="154.50" y1="513.3" x2="154.50" y2="515.5" stroke="#1a1a1a" stroke-width="0.85"/>
<line x1="156.50" y1="513.3" x2="156.50" y2="515.5" stroke="#1a1a1a" stroke-width="0.85"/>
<line x1="158.50" y1="513.3" x2="158.50" y2="516.5" stroke="#111" stroke-width="1"/>
<text x="153.10" y="523.50" textLength="6.0" lengthAdjust="spacingAndGlyphs" class="ht" style="font-size:7.5px">10</text>
<text x="159.30" y="520.50" class="ht" style="font-size:5.0px">5</text>
<line x1="169.50" y1="513.3" x2="169.50" y2="515.5" stroke="#1a1a1a" stroke-width="0.85"/>
<text x="76.60" y="531.50" textLength="41.6" lengthAdjust="spacingAndGlyphs" class="hl" style="stroke:#1a2626;stroke-width:0.22">TRAIL-R1 PE-A</text>
<text x="89.7" y="543.0" text-anchor="middle" class="cap"><tspan>(</tspan><tspan font-weight="bold">d</tspan><tspan>)</tspan></text>
<rect x="233.8" y="376.9" width="158.4" height="137.2" fill="#fff" stroke="none"/>
<path d="M231.60000000000002 514.1H392.2" fill="none" stroke="#333" stroke-width="0.8"/>
<path d="M234.59 503.60 L235.25 505.21 L235.92 496.72 L236.58 499.51 L237.24 492.36 L237.91 499.94 L238.57 500.87 L239.24 502.64 L239.90 491.15 L240.57 495.58 L241.23 486.06 L241.90 495.17 L242.56 475.19 L243.22 485.39 L243.89 481.29 L244.55 470.36 L245.22 482.07 L245.88 483.39 L246.55 454.22 L247.21 473.59 L247.88 445.54 L248.54 469.43 L249.21 432.33 L249.87 441.20 L250.53 424.35 L251.20 433.74 L251.86 423.98 L252.53 441.96 L253.19 406.08 L253.86 414.31 L254.52 406.17 L255.19 433.17 L255.85 393.49 L256.52 442.47 L257.18 408.58 L257.84 416.97 L258.51 413.18 L259.17 461.51 L259.84 435.42 L260.50 451.43 L261.17 399.71 L261.83 431.28 L262.50 425.49 L263.16 434.34 L263.83 422.42 L264.49 466.90 L265.15 450.56 L265.82 454.22 L266.48 454.62 L267.15 464.03 L267.81 486.25 L268.48 478.90 L269.14 468.15 L269.81 490.23 L270.47 471.05 L271.13 499.90 L271.80 484.45 L272.46 485.24 L273.13 488.30 L273.79 502.09 L274.46 501.36 L275.12 507.67 L275.79 503.70 L276.45 511.72 L277.12 508.94 L277.78 511.19 L278.44 510.23 L279.11 513.27 L279.77 512.04 L280.44 513.13 L281.10 513.12 L281.77 513.81 L282.43 513.32 L283.10 513.44 L283.76 513.66 L284.43 513.67 L285.09 514.10 L285.75 513.47 L286.42 513.75 L287.08 513.74 L287.75 513.83 L288.41 514.07 L289.08 513.72 L289.74 514.10 L290.41 513.86 L291.07 514.09 L291.74 514.05 L292.40 514.10 L293.06 514.10 L293.73 514.10 L294.39 514.10 L295.06 514.10 L295.72 514.10 L296.39 514.10 L297.05 514.10 L297.72 514.10 L298.38 514.10 L299.04 514.10 L299.71 514.10 L300.37 514.10 L301.04 514.10 L301.70 514.10 L302.37 514.10 L303.03 514.10 L303.70 514.10 L304.36 514.10 L305.03 514.10 L305.69 514.10 L306.35 514.10 L307.02 514.10 L307.68 514.10 L308.35 514.10 L309.01 514.10 L309.68 514.10 L310.34 514.10 L311.01 514.10 L311.67 514.10 L312.34 514.10 L313.00 514.10 L313.66 514.10 L314.33 514.10 L314.99 514.10 L315.66 514.10 L316.32 514.10 L316.99 514.10 L317.65 514.10 L318.32 514.10 L318.98 514.10 L319.65 514.10 L320.31 514.10 L320.97 514.10 L321.64 514.10 L322.30 514.10 L322.97 514.10 L323.63 514.10 L324.30 514.10 L324.96 514.10 L325.63 514.10 L326.29 514.10 L326.96 514.10 L327.62 514.10 L328.28 514.10 L328.95 514.10 L329.61 514.10 L330.28 514.10 L330.94 514.10 L331.61 514.10 L332.27 514.10 L332.94 514.10 L333.60 514.10 L334.26 514.10 L334.93 514.10 L335.59 514.10 L336.26 514.10 L336.92 514.10 L337.59 514.10 L338.25 514.10 L338.92 514.10 L339.58 514.10 L340.25 514.10 L340.91 514.10 L341.57 514.10 L342.24 514.10 L342.90 514.10 L343.57 514.10 L344.23 514.10 L344.90 514.10 L345.56 514.10 L346.23 514.10 L346.89 514.10 L347.56 514.10 L348.22 514.10 L348.88 514.10 L349.55 514.10 L350.21 514.10 L350.88 514.10 L351.54 514.10 L352.21 514.10 L352.87 514.10 L353.54 514.10 L354.20 514.10 L354.87 514.10 L355.53 514.10 L356.19 514.10 L356.86 514.10 L357.52 514.10 L358.19 514.10 L358.85 514.10 L359.52 514.10 L360.18 514.10 L360.85 514.10 L361.51 514.10 L362.17 514.10 L362.84 514.10 L363.50 514.10 L364.17 514.10 L364.83 514.10 L365.50 514.10 L366.16 514.10 L366.83 514.10 L367.49 514.10 L368.16 514.10 L368.82 514.10 L369.48 514.10 L370.15 514.10 L370.81 514.10 L371.48 514.10 L372.14 514.10 L372.81 514.10 L373.47 514.10 L374.14 514.10 L374.80 514.10 L375.47 514.10 L376.13 514.10 L376.79 514.10 L377.46 514.10 L378.12 514.10 L378.79 514.10 L379.45 514.10 L380.12 514.10 L380.78 514.10 L381.45 514.10 L382.11 514.10 L382.78 514.10 L383.44 514.10 L384.10 514.10 L384.77 514.10 L385.43 514.10 L386.10 514.10 L386.76 514.10 L387.43 514.10 L388.09 514.10 L388.76 514.10 L389.42 514.10 L390.08 514.10 L390.75 514.10 L391.41 514.10" fill="none" stroke="#a09c9e" stroke-width="0.5" stroke-linejoin="miter" stroke-miterlimit="10"/>
<path d="M234.59 501.28 L235.25 506.08 L235.92 496.31 L236.58 508.38 L237.24 499.02 L237.91 504.71 L238.57 497.81 L239.24 498.97 L239.90 489.57 L240.57 498.39 L241.23 479.77 L241.90 494.55 L242.56 483.28 L243.22 498.35 L243.89 479.70 L244.55 477.78 L245.22 467.10 L245.88 464.28 L246.55 439.69 L247.21 447.33 L247.88 476.65 L248.54 450.18 L249.21 438.09 L249.87 444.44 L250.53 427.58 L251.20 435.36 L251.86 418.59 L252.53 460.30 L253.19 411.97 L253.86 435.12 L254.52 400.08 L255.19 414.48 L255.85 401.60 L256.52 377.20 L257.18 404.34 L257.84 437.63 L258.51 416.62 L259.17 438.08 L259.84 396.94 L260.50 455.90 L261.17 416.42 L261.83 452.42 L262.50 412.57 L263.16 454.53 L263.83 444.71 L264.49 435.04 L265.15 441.99 L265.82 473.57 L266.48 447.69 L267.15 447.90 L267.81 451.72 L268.48 471.84 L269.14 470.07 L269.81 487.69 L270.47 476.66 L271.13 489.86 L271.80 486.77 L272.46 501.88 L273.13 491.01 L273.79 501.01 L274.46 497.80 L275.12 508.41 L275.79 504.58 L276.45 509.13 L277.12 510.11 L277.78 511.70 L278.44 511.68 L279.11 512.93 L279.77 512.71 L280.44 513.49 L281.10 513.98 L281.77 513.66 L282.43 513.51 L283.10 513.69 L283.76 513.30 L284.43 513.70 L285.09 514.04 L285.75 514.05 L286.42 513.70 L287.08 514.02 L287.75 513.71 L288.41 514.10 L289.08 513.91 L289.74 514.10 L290.41 513.97 L291.07 514.10 L291.74 513.96 L292.40 514.10 L293.06 514.10 L293.73 514.10 L294.39 514.10 L295.06 514.10 L295.72 514.10 L296.39 514.10 L297.05 514.10 L297.72 514.10 L298.38 514.10 L299.04 514.10 L299.71 514.10 L300.37 514.10 L301.04 514.10 L301.70 514.10 L302.37 514.10 L303.03 514.10 L303.70 514.10 L304.36 514.10 L305.03 514.10 L305.69 514.10 L306.35 514.10 L307.02 514.10 L307.68 514.10 L308.35 514.10 L309.01 514.10 L309.68 514.10 L310.34 514.10 L311.01 514.10 L311.67 514.10 L312.34 514.10 L313.00 514.10 L313.66 514.10 L314.33 514.10 L314.99 514.10 L315.66 514.10 L316.32 514.10 L316.99 514.10 L317.65 514.10 L318.32 514.10 L318.98 514.10 L319.65 514.10 L320.31 514.10 L320.97 514.10 L321.64 514.10 L322.30 514.10 L322.97 514.10 L323.63 514.10 L324.30 514.10 L324.96 514.10 L325.63 514.10 L326.29 514.10 L326.96 514.10 L327.62 514.10 L328.28 514.10 L328.95 514.10 L329.61 514.10 L330.28 514.10 L330.94 514.10 L331.61 514.10 L332.27 514.10 L332.94 514.10 L333.60 514.10 L334.26 514.10 L334.93 514.10 L335.59 514.10 L336.26 514.10 L336.92 514.10 L337.59 514.10 L338.25 514.10 L338.92 514.10 L339.58 514.10 L340.25 514.10 L340.91 514.10 L341.57 514.10 L342.24 514.10 L342.90 514.10 L343.57 514.10 L344.23 514.10 L344.90 514.10 L345.56 514.10 L346.23 514.10 L346.89 514.10 L347.56 514.10 L348.22 514.10 L348.88 514.10 L349.55 514.10 L350.21 514.10 L350.88 514.10 L351.54 514.10 L352.21 514.10 L352.87 514.10 L353.54 514.10 L354.20 514.10 L354.87 514.10 L355.53 514.10 L356.19 514.10 L356.86 514.10 L357.52 514.10 L358.19 514.10 L358.85 514.10 L359.52 514.10 L360.18 514.10 L360.85 514.10 L361.51 514.10 L362.17 514.10 L362.84 514.10 L363.50 514.10 L364.17 514.10 L364.83 514.10 L365.50 514.10 L366.16 514.10 L366.83 514.10 L367.49 514.10 L368.16 514.10 L368.82 514.10 L369.48 514.10 L370.15 514.10 L370.81 514.10 L371.48 514.10 L372.14 514.10 L372.81 514.10 L373.47 514.10 L374.14 514.10 L374.80 514.10 L375.47 514.10 L376.13 514.10 L376.79 514.10 L377.46 514.10 L378.12 514.10 L378.79 514.10 L379.45 514.10 L380.12 514.10 L380.78 514.10 L381.45 514.10 L382.11 514.10 L382.78 514.10 L383.44 514.10 L384.10 514.10 L384.77 514.10 L385.43 514.10 L386.10 514.10 L386.76 514.10 L387.43 514.10 L388.09 514.10 L388.76 514.10 L389.42 514.10 L390.08 514.10 L390.75 514.10 L391.41 514.10" fill="none" stroke="#2a2024" stroke-width="0.55" stroke-linejoin="miter" stroke-miterlimit="10"/>
<path d="M245.22 513.42 L245.88 513.39 L246.55 512.49 L247.21 513.68 L247.88 511.86 L248.54 513.21 L249.21 512.39 L249.87 511.59 L250.53 512.38 L251.20 510.84 L251.86 510.88 L252.53 511.02 L253.19 510.38 L253.86 511.52 L254.52 513.67 L255.19 510.17 L255.85 510.01 L256.52 511.21 L257.18 511.40 L257.84 508.46 L258.51 510.37 L259.17 509.97 L259.84 509.77 L260.50 505.42 L261.17 509.64 L261.83 511.76 L262.50 507.81 L263.16 508.83 L263.83 509.60 L264.49 505.47 L265.15 506.15 L265.82 502.60 L266.48 504.01 L267.15 499.08 L267.81 497.99 L268.48 498.93 L269.14 495.47 L269.81 492.17 L270.47 493.16 L271.13 497.55 L271.80 490.94 L272.46 488.49 L273.13 482.71 L273.79 485.37 L274.46 478.57 L275.12 481.17 L275.79 479.08 L276.45 478.64 L277.12 476.16 L277.78 475.33 L278.44 471.79 L279.11 475.15 L279.77 475.65 L280.44 470.71 L281.10 468.90 L281.77 470.61 L282.43 466.22 L283.10 466.91 L283.76 461.51 L284.43 476.15 L285.09 461.59 L285.75 480.03 L286.42 479.68 L287.08 471.93 L287.75 478.12 L288.41 476.38 L289.08 477.97 L289.74 482.47 L290.41 483.65 L291.07 480.77 L291.74 478.94 L292.40 479.10 L293.06 481.83 L293.73 484.75 L294.39 480.27 L295.06 492.82 L295.72 486.41 L296.39 482.37 L297.05 481.50 L297.72 483.25 L298.38 483.07 L299.04 484.46 L299.71 487.84 L300.37 495.41 L301.04 490.46 L301.70 489.77 L302.37 483.63 L303.03 490.47 L303.70 490.30 L304.36 487.01 L305.03 492.53 L305.69 489.28 L306.35 487.64 L307.02 490.65 L307.68 489.87 L308.35 495.63 L309.01 493.92 L309.68 490.69 L310.34 486.13 L311.01 491.82 L311.67 493.01 L312.34 492.64 L313.00 487.88 L313.66 494.77 L314.33 489.57 L314.99 491.34 L315.66 489.95 L316.32 492.66 L316.99 489.95 L317.65 485.82 L318.32 491.24 L318.98 491.94 L319.65 497.00 L320.31 488.83 L320.97 492.41 L321.64 488.97 L322.30 489.78 L322.97 492.66 L323.63 492.10 L324.30 494.33 L324.96 483.22 L325.63 486.64 L326.29 486.87 L326.96 485.56 L327.62 484.82 L328.28 486.48 L328.95 485.82 L329.61 481.28 L330.28 494.77 L330.94 488.20 L331.61 490.79 L332.27 488.33 L332.94 495.47 L333.60 491.88 L334.26 485.28 L334.93 492.19 L335.59 485.83 L336.26 490.42 L336.92 487.99 L337.59 492.49 L338.25 489.45 L338.92 492.86 L339.58 486.18 L340.25 494.31 L340.91 487.68 L341.57 491.32 L342.24 490.95 L342.90 486.75 L343.57 493.00 L344.23 495.05 L344.90 493.96 L345.56 492.86 L346.23 497.48 L346.89 492.36 L347.56 497.69 L348.22 500.18 L348.88 501.99 L349.55 501.39 L350.21 500.29 L350.88 499.77 L351.54 502.60 L352.21 504.63 L352.87 504.03 L353.54 508.84 L354.20 502.88 L354.87 504.08 L355.53 506.63 L356.19 505.38 L356.86 508.73 L357.52 504.22 L358.19 507.86 L358.85 508.66 L359.52 504.97 L360.18 509.99 L360.85 508.23 L361.51 510.38 L362.17 510.27 L362.84 510.18 L363.50 510.79 L364.17 508.51 L364.83 509.27 L365.50 511.48 L366.16 508.98 L366.83 511.40 L367.49 511.80 L368.16 511.52 L368.82 513.05 L369.48 511.33 L370.15 513.26 L370.81 513.62 L371.48 512.13 L372.14 513.60 L372.81 513.31 L373.47 513.97 L374.14 513.39 L374.80 513.37" fill="none" stroke="#cc0c1c" stroke-width="0.85" stroke-linejoin="round"/>
<path d="M248.54 514.60 L248.54 513.85 L249.21 513.24 L249.87 513.36 L250.53 513.14 L251.20 513.45 L251.86 513.51 L252.53 513.18 L253.19 512.07 L253.86 512.49 L254.52 512.61 L255.19 510.62 L255.85 511.00 L256.52 511.97 L257.18 510.22 L257.84 510.33 L258.51 507.08 L259.17 508.50 L259.84 506.91 L260.50 506.64 L261.17 503.59 L261.83 502.87 L262.50 500.82 L263.16 499.09 L263.83 501.15 L264.49 496.24 L265.15 497.17 L265.82 495.11 L266.48 489.58 L267.15 492.83 L267.81 486.25 L268.48 480.31 L269.14 482.05 L269.81 478.24 L270.47 483.19 L271.13 478.64 L271.80 484.98 L272.46 480.25 L273.13 477.67 L273.79 468.38 L274.46 467.04 L275.12 480.95 L275.79 474.91 L276.45 475.69 L277.12 466.56 L277.78 469.52 L278.44 474.24 L279.11 470.16 L279.77 468.96 L280.44 475.99 L281.10 470.16 L281.77 471.91 L282.43 471.52 L283.10 480.78 L283.76 475.23 L284.43 483.15 L285.09 474.50 L285.75 478.79 L286.42 471.52 L287.08 471.51 L287.75 482.95 L288.41 471.88 L289.08 479.28 L289.74 474.70 L290.41 478.01 L291.07 480.14 L291.74 480.20 L292.40 481.42 L293.06 475.36 L293.73 480.54 L294.39 484.83 L295.06 479.97 L295.72 484.37 L296.39 481.80 L297.05 486.61 L297.72 483.70 L298.38 488.35 L299.04 488.41 L299.71 485.34 L300.37 484.02 L301.04 486.56 L301.70 487.66 L302.37 480.91 L303.03 488.51 L303.70 495.14 L304.36 487.22 L305.03 490.96 L305.69 493.75 L306.35 486.26 L307.02 486.66 L307.68 490.08 L308.35 490.28 L309.01 488.70 L309.68 485.46 L310.34 491.10 L311.01 484.18 L311.67 487.25 L312.34 486.58 L313.00 482.96 L313.66 488.23 L314.33 485.27 L314.99 486.87 L315.66 493.71 L316.32 487.16 L316.99 486.38 L317.65 486.84 L318.32 482.36 L318.98 487.55 L319.65 484.25 L320.31 484.56 L320.97 484.05 L321.64 490.68 L322.30 486.60 L322.97 486.57 L323.63 479.88 L324.30 485.95 L324.96 482.77 L325.63 483.86 L326.29 489.00 L326.96 488.06 L327.62 483.51 L328.28 481.89 L328.95 479.03 L329.61 484.85 L330.28 488.04 L330.94 484.02 L331.61 488.13 L332.27 479.13 L332.94 484.53 L333.60 483.50 L334.26 477.23 L334.93 482.08 L335.59 487.80 L336.26 482.30 L336.92 486.06 L337.59 488.11 L338.25 486.94 L338.92 488.93 L339.58 483.17 L340.25 488.18 L340.91 487.35 L341.57 483.49 L342.24 487.91 L342.90 489.45 L343.57 488.52 L344.23 491.49 L344.90 490.53 L345.56 492.22 L346.23 490.15 L346.89 494.42 L347.56 496.68 L348.22 496.29 L348.88 501.51 L349.55 497.52 L350.21 496.15 L350.88 494.37 L351.54 498.86 L352.21 497.79 L352.87 505.26 L353.54 499.42 L354.20 502.14 L354.87 501.46 L355.53 505.38 L356.19 504.43 L356.86 505.56 L357.52 507.28 L358.19 507.46 L358.85 505.82 L359.52 510.79 L360.18 509.70 L360.85 509.24 L361.51 508.75 L362.17 512.08 L362.84 512.75 L363.50 513.75 L364.17 512.11 L364.83 512.82 L365.50 513.05 L366.16 513.41 L366.83 513.25 L367.49 513.47 L368.16 513.30 L368.82 513.58 L368.82 514.60Z" fill="#0a8332" stroke="none"/>
<path d="M248.54 513.85 L249.21 513.24 L249.87 513.36 L250.53 513.14 L251.20 513.45 L251.86 513.51 L252.53 513.18 L253.19 512.07 L253.86 512.49 L254.52 512.61 L255.19 510.62 L255.85 511.00 L256.52 511.97 L257.18 510.22 L257.84 510.33 L258.51 507.08 L259.17 508.50 L259.84 506.91 L260.50 506.64 L261.17 503.59 L261.83 502.87 L262.50 500.82 L263.16 499.09 L263.83 501.15 L264.49 496.24 L265.15 497.17 L265.82 495.11 L266.48 489.58 L267.15 492.83 L267.81 486.25 L268.48 480.31 L269.14 482.05 L269.81 478.24 L270.47 483.19 L271.13 478.64 L271.80 484.98 L272.46 480.25 L273.13 477.67 L273.79 468.38 L274.46 467.04 L275.12 480.95 L275.79 474.91 L276.45 475.69 L277.12 466.56 L277.78 469.52 L278.44 474.24 L279.11 470.16 L279.77 468.96 L280.44 475.99 L281.10 470.16 L281.77 471.91 L282.43 471.52 L283.10 480.78 L283.76 475.23 L284.43 483.15 L285.09 474.50 L285.75 478.79 L286.42 471.52 L287.08 471.51 L287.75 482.95 L288.41 471.88 L289.08 479.28 L289.74 474.70 L290.41 478.01 L291.07 480.14 L291.74 480.20 L292.40 481.42 L293.06 475.36 L293.73 480.54 L294.39 484.83 L295.06 479.97 L295.72 484.37 L296.39 481.80 L297.05 486.61 L297.72 483.70 L298.38 488.35 L299.04 488.41 L299.71 485.34 L300.37 484.02 L301.04 486.56 L301.70 487.66 L302.37 480.91 L303.03 488.51 L303.70 495.14 L304.36 487.22 L305.03 490.96 L305.69 493.75 L306.35 486.26 L307.02 486.66 L307.68 490.08 L308.35 490.28 L309.01 488.70 L309.68 485.46 L310.34 491.10 L311.01 484.18 L311.67 487.25 L312.34 486.58 L313.00 482.96 L313.66 488.23 L314.33 485.27 L314.99 486.87 L315.66 493.71 L316.32 487.16 L316.99 486.38 L317.65 486.84 L318.32 482.36 L318.98 487.55 L319.65 484.25 L320.31 484.56 L320.97 484.05 L321.64 490.68 L322.30 486.60 L322.97 486.57 L323.63 479.88 L324.30 485.95 L324.96 482.77 L325.63 483.86 L326.29 489.00 L326.96 488.06 L327.62 483.51 L328.28 481.89 L328.95 479.03 L329.61 484.85 L330.28 488.04 L330.94 484.02 L331.61 488.13 L332.27 479.13 L332.94 484.53 L333.60 483.50 L334.26 477.23 L334.93 482.08 L335.59 487.80 L336.26 482.30 L336.92 486.06 L337.59 488.11 L338.25 486.94 L338.92 488.93 L339.58 483.17 L340.25 488.18 L340.91 487.35 L341.57 483.49 L342.24 487.91 L342.90 489.45 L343.57 488.52 L344.23 491.49 L344.90 490.53 L345.56 492.22 L346.23 490.15 L346.89 494.42 L347.56 496.68 L348.22 496.29 L348.88 501.51 L349.55 497.52 L350.21 496.15 L350.88 494.37 L351.54 498.86 L352.21 497.79 L352.87 505.26 L353.54 499.42 L354.20 502.14 L354.87 501.46 L355.53 505.38 L356.19 504.43 L356.86 505.56 L357.52 507.28 L358.19 507.46 L358.85 505.82 L359.52 510.79 L360.18 509.70 L360.85 509.24 L361.51 508.75 L362.17 512.08 L362.84 512.75 L363.50 513.75 L364.17 512.11 L364.83 512.82 L365.50 513.05 L366.16 513.41 L366.83 513.25 L367.49 513.47 L368.16 513.30 L368.82 513.58" fill="none" stroke="#0c2414" stroke-width="0.5" stroke-linejoin="round"/>
<path d="M233.8 376.9H392.2V514.1" fill="none" stroke="#666" stroke-width="0.7"/>
<path d="M233.8 376.4V514.5" fill="none" stroke="#333" stroke-width="0.8"/>
<line x1="231.0" y1="514.10" x2="233.8" y2="514.10" stroke="#222" stroke-width="0.75"/>
<text transform="translate(229.60,514.10) rotate(-90)" x="-1.75" textLength="3.5" lengthAdjust="spacingAndGlyphs" class="ht">0</text>
<line x1="231.0" y1="486.66" x2="233.8" y2="486.66" stroke="#222" stroke-width="0.75"/>
<text transform="translate(229.60,486.66) rotate(-90)" x="-3.4" textLength="6.8" lengthAdjust="spacingAndGlyphs" class="ht">50</text>
<line x1="231.0" y1="459.22" x2="233.8" y2="459.22" stroke="#222" stroke-width="0.75"/>
<text transform="translate(229.60,459.22) rotate(-90)" x="-5.0" textLength="10.0" lengthAdjust="spacingAndGlyphs" class="ht">100</text>
<line x1="231.0" y1="431.78" x2="233.8" y2="431.78" stroke="#222" stroke-width="0.75"/>
<text transform="translate(229.60,431.78) rotate(-90)" x="-5.0" textLength="10.0" lengthAdjust="spacingAndGlyphs" class="ht">150</text>
<line x1="231.0" y1="404.34" x2="233.8" y2="404.34" stroke="#222" stroke-width="0.75"/>
<text transform="translate(229.60,404.34) rotate(-90)" x="-5.0" textLength="10.0" lengthAdjust="spacingAndGlyphs" class="ht">200</text>
<line x1="231.0" y1="376.90" x2="233.8" y2="376.90" stroke="#222" stroke-width="0.75"/>
<text transform="translate(229.60,376.90) rotate(-90)" x="-5.0" textLength="10.0" lengthAdjust="spacingAndGlyphs" class="ht">250</text>
<line x1="232.3" y1="508.61" x2="233.8" y2="508.61" stroke="#222" stroke-width="0.6"/>
<line x1="232.3" y1="503.12" x2="233.8" y2="503.12" stroke="#222" stroke-width="0.6"/>
<line x1="232.3" y1="497.64" x2="233.8" y2="497.64" stroke="#222" stroke-width="0.6"/>
<line x1="232.3" y1="492.15" x2="233.8" y2="492.15" stroke="#222" stroke-width="0.6"/>
<line x1="232.3" y1="481.17" x2="233.8" y2="481.17" stroke="#222" stroke-width="0.6"/>
<line x1="232.3" y1="475.68" x2="233.8" y2="475.68" stroke="#222" stroke-width="0.6"/>
<line x1="232.3" y1="470.20" x2="233.8" y2="470.20" stroke="#222" stroke-width="0.6"/>
<line x1="232.3" y1="464.71" x2="233.8" y2="464.71" stroke="#222" stroke-width="0.6"/>
<line x1="232.3" y1="453.73" x2="233.8" y2="453.73" stroke="#222" stroke-width="0.6"/>
<line x1="232.3" y1="448.24" x2="233.8" y2="448.24" stroke="#222" stroke-width="0.6"/>
<line x1="232.3" y1="442.76" x2="233.8" y2="442.76" stroke="#222" stroke-width="0.6"/>
<line x1="232.3" y1="437.27" x2="233.8" y2="437.27" stroke="#222" stroke-width="0.6"/>
<line x1="232.3" y1="426.29" x2="233.8" y2="426.29" stroke="#222" stroke-width="0.6"/>
<line x1="232.3" y1="420.80" x2="233.8" y2="420.80" stroke="#222" stroke-width="0.6"/>
<line x1="232.3" y1="415.32" x2="233.8" y2="415.32" stroke="#222" stroke-width="0.6"/>
<line x1="232.3" y1="409.83" x2="233.8" y2="409.83" stroke="#222" stroke-width="0.6"/>
<line x1="232.3" y1="398.85" x2="233.8" y2="398.85" stroke="#222" stroke-width="0.6"/>
<line x1="232.3" y1="393.36" x2="233.8" y2="393.36" stroke="#222" stroke-width="0.6"/>
<line x1="232.3" y1="387.88" x2="233.8" y2="387.88" stroke="#222" stroke-width="0.6"/>
<line x1="232.3" y1="382.39" x2="233.8" y2="382.39" stroke="#222" stroke-width="0.6"/>
<text transform="translate(221.20,446.10) rotate(-90)" text-anchor="middle" class="hl">Count</text>
<line x1="236.50" y1="514.1" x2="236.50" y2="516.3000000000001" stroke="#1a1a1a" stroke-width="0.85"/>
<line x1="241.50" y1="514.1" x2="241.50" y2="516.3000000000001" stroke="#1a1a1a" stroke-width="0.85"/>
<line x1="245.50" y1="514.1" x2="245.50" y2="516.3000000000001" stroke="#1a1a1a" stroke-width="0.85"/>
<line x1="248.50" y1="514.1" x2="248.50" y2="516.3000000000001" stroke="#1a1a1a" stroke-width="0.85"/>
<line x1="251.50" y1="514.1" x2="251.50" y2="516.3000000000001" stroke="#1a1a1a" stroke-width="0.85"/>
<line x1="253.50" y1="514.1" x2="253.50" y2="516.3000000000001" stroke="#1a1a1a" stroke-width="0.85"/>
<line x1="255.50" y1="514.1" x2="255.50" y2="516.3000000000001" stroke="#1a1a1a" stroke-width="0.85"/>
<line x1="257.50" y1="514.1" x2="257.50" y2="517.3000000000001" stroke="#111" stroke-width="1"/>
<text x="252.20" y="525.00" textLength="6.0" lengthAdjust="spacingAndGlyphs" class="ht" style="font-size:7.5px">10</text>
<text x="258.40" y="522.00" class="ht" style="font-size:5.0px">2</text>
<line x1="269.50" y1="514.1" x2="269.50" y2="516.3000000000001" stroke="#1a1a1a" stroke-width="0.85"/>
<line x1="276.50" y1="514.1" x2="276.50" y2="516.3000000000001" stroke="#1a1a1a" stroke-width="0.85"/>
<line x1="281.50" y1="514.1" x2="281.50" y2="516.3000000000001" stroke="#1a1a1a" stroke-width="0.85"/>
<line x1="284.50" y1="514.1" x2="284.50" y2="516.3000000000001" stroke="#1a1a1a" stroke-width="0.85"/>
<line x1="287.50" y1="514.1" x2="287.50" y2="516.3000000000001" stroke="#1a1a1a" stroke-width="0.85"/>
<line x1="290.50" y1="514.1" x2="290.50" y2="516.3000000000001" stroke="#1a1a1a" stroke-width="0.85"/>
<line x1="292.50" y1="514.1" x2="292.50" y2="516.3000000000001" stroke="#1a1a1a" stroke-width="0.85"/>
<line x1="294.50" y1="514.1" x2="294.50" y2="516.3000000000001" stroke="#1a1a1a" stroke-width="0.85"/>
<line x1="296.50" y1="514.1" x2="296.50" y2="517.3000000000001" stroke="#111" stroke-width="1"/>
<text x="291.50" y="525.00" textLength="6.0" lengthAdjust="spacingAndGlyphs" class="ht" style="font-size:7.5px">10</text>
<text x="297.70" y="522.00" class="ht" style="font-size:5.0px">3</text>
<line x1="308.50" y1="514.1" x2="308.50" y2="516.3000000000001" stroke="#1a1a1a" stroke-width="0.85"/>
<line x1="315.50" y1="514.1" x2="315.50" y2="516.3000000000001" stroke="#1a1a1a" stroke-width="0.85"/>
<line x1="320.50" y1="514.1" x2="320.50" y2="516.3000000000001" stroke="#1a1a1a" stroke-width="0.85"/>
<line x1="324.50" y1="514.1" x2="324.50" y2="516.3000000000001" stroke="#1a1a1a" stroke-width="0.85"/>
<line x1="327.50" y1="514.1" x2="327.50" y2="516.3000000000001" stroke="#1a1a1a" stroke-width="0.85"/>
<line x1="329.50" y1="514.1" x2="329.50" y2="516.3000000000001" stroke="#1a1a1a" stroke-width="0.85"/>
<line x1="332.50" y1="514.1" x2="332.50" y2="516.3000000000001" stroke="#1a1a1a" stroke-width="0.85"/>
<line x1="334.50" y1="514.1" x2="334.50" y2="516.3000000000001" stroke="#1a1a1a" stroke-width="0.85"/>
<line x1="336.50" y1="514.1" x2="336.50" y2="517.3000000000001" stroke="#111" stroke-width="1"/>
<text x="330.80" y="525.00" textLength="6.0" lengthAdjust="spacingAndGlyphs" class="ht" style="font-size:7.5px">10</text>
<text x="337.00" y="522.00" class="ht" style="font-size:5.0px">4</text>
<line x1="347.50" y1="514.1" x2="347.50" y2="516.3000000000001" stroke="#1a1a1a" stroke-width="0.85"/>
<line x1="354.50" y1="514.1" x2="354.50" y2="516.3000000000001" stroke="#1a1a1a" stroke-width="0.85"/>
<line x1="359.50" y1="514.1" x2="359.50" y2="516.3000000000001" stroke="#1a1a1a" stroke-width="0.85"/>
<line x1="363.50" y1="514.1" x2="363.50" y2="516.3000000000001" stroke="#1a1a1a" stroke-width="0.85"/>
<line x1="366.50" y1="514.1" x2="366.50" y2="516.3000000000001" stroke="#1a1a1a" stroke-width="0.85"/>
<line x1="369.50" y1="514.1" x2="369.50" y2="516.3000000000001" stroke="#1a1a1a" stroke-width="0.85"/>
<line x1="371.50" y1="514.1" x2="371.50" y2="516.3000000000001" stroke="#1a1a1a" stroke-width="0.85"/>
<line x1="373.50" y1="514.1" x2="373.50" y2="516.3000000000001" stroke="#1a1a1a" stroke-width="0.85"/>
<line x1="375.50" y1="514.1" x2="375.50" y2="517.3000000000001" stroke="#111" stroke-width="1"/>
<text x="370.10" y="525.00" textLength="6.0" lengthAdjust="spacingAndGlyphs" class="ht" style="font-size:7.5px">10</text>
<text x="376.30" y="522.00" class="ht" style="font-size:5.0px">5</text>
<line x1="387.50" y1="514.1" x2="387.50" y2="516.3000000000001" stroke="#1a1a1a" stroke-width="0.85"/>
<text x="291.70" y="532.30" textLength="41.6" lengthAdjust="spacingAndGlyphs" class="hl" style="stroke:#1a2626;stroke-width:0.22">TRAIL-R1 PE-A</text>
<text x="305.1" y="543.0" text-anchor="middle" class="cap"><tspan>(</tspan><tspan font-weight="bold">e</tspan><tspan>)</tspan></text>
<text x="52.3" y="217.3" textLength="35.7" lengthAdjust="spacingAndGlyphs" style="font-size:5.8px;font-weight:bold;stroke:#111;stroke-width:0.2;">isotype control</text>
<text x="69.4" y="251.5" textLength="17.2" lengthAdjust="spacingAndGlyphs" style="font-size:5.8px;font-weight:bold;stroke:#111;stroke-width:0.2;">control</text>
<text x="99.0" y="274.4" textLength="9.5" lengthAdjust="spacingAndGlyphs" style="font-size:6.0px;font-weight:bold;stroke:#111;stroke-width:0.1;">LPS</text>
<line x1="98.8" y1="275.65" x2="108.7" y2="275.65" stroke="#111" stroke-width="0.85"/>
<text x="271.1" y="216.2" textLength="36.9" lengthAdjust="spacingAndGlyphs" style="font-size:5.8px;font-weight:bold;stroke:#111;stroke-width:0.2;">isotype control</text>
<text x="292.2" y="262.8" textLength="50.7" lengthAdjust="spacingAndGlyphs" style="font-size:7.0px;font-weight:bold;stroke:#111;stroke-width:0.22;">LPS + GALANGIN</text>
<line x1="292.0" y1="264.05" x2="343.09999999999997" y2="264.05" stroke="#111" stroke-width="0.85"/>
<text x="273.4" y="281.8" textLength="10.3" lengthAdjust="spacingAndGlyphs" style="font-size:5.2px;">LPS</text>
<text x="55.0" y="402.2" textLength="37.8" lengthAdjust="spacingAndGlyphs" style="font-size:5.8px;font-weight:bold;stroke:#111;stroke-width:0.2;">isotype control</text>
<text x="76.2" y="445.9" textLength="61.2" lengthAdjust="spacingAndGlyphs" style="font-size:7.0px;font-weight:bold;stroke:#111;stroke-width:0.22;">LPS + KAEMPFEROL</text>
<line x1="76.0" y1="447.15" x2="137.6" y2="447.15" stroke="#111" stroke-width="0.85"/>
<text x="114.0" y="477.3" textLength="7.2" lengthAdjust="spacingAndGlyphs" style="font-size:4.6px;stroke:#111;stroke-width:0.08;">LPS</text>
<text x="269.6" y="406.3" textLength="38.2" lengthAdjust="spacingAndGlyphs" style="font-size:5.8px;font-weight:bold;stroke:#111;stroke-width:0.2;">isotype control</text>
<text x="289.7" y="442.4" textLength="63.0" lengthAdjust="spacingAndGlyphs" style="font-size:7.0px;font-weight:bold;stroke:#111;stroke-width:0.22;">LPS + KAEMPFERIDE</text>
<line x1="289.5" y1="443.65" x2="352.9" y2="443.65" stroke="#111" stroke-width="0.85"/>
<text x="328.8" y="477.3" textLength="7.5" lengthAdjust="spacingAndGlyphs" style="font-size:4.6px;stroke:#111;stroke-width:0.08;">LPS</text>
</svg>
</body></html>
